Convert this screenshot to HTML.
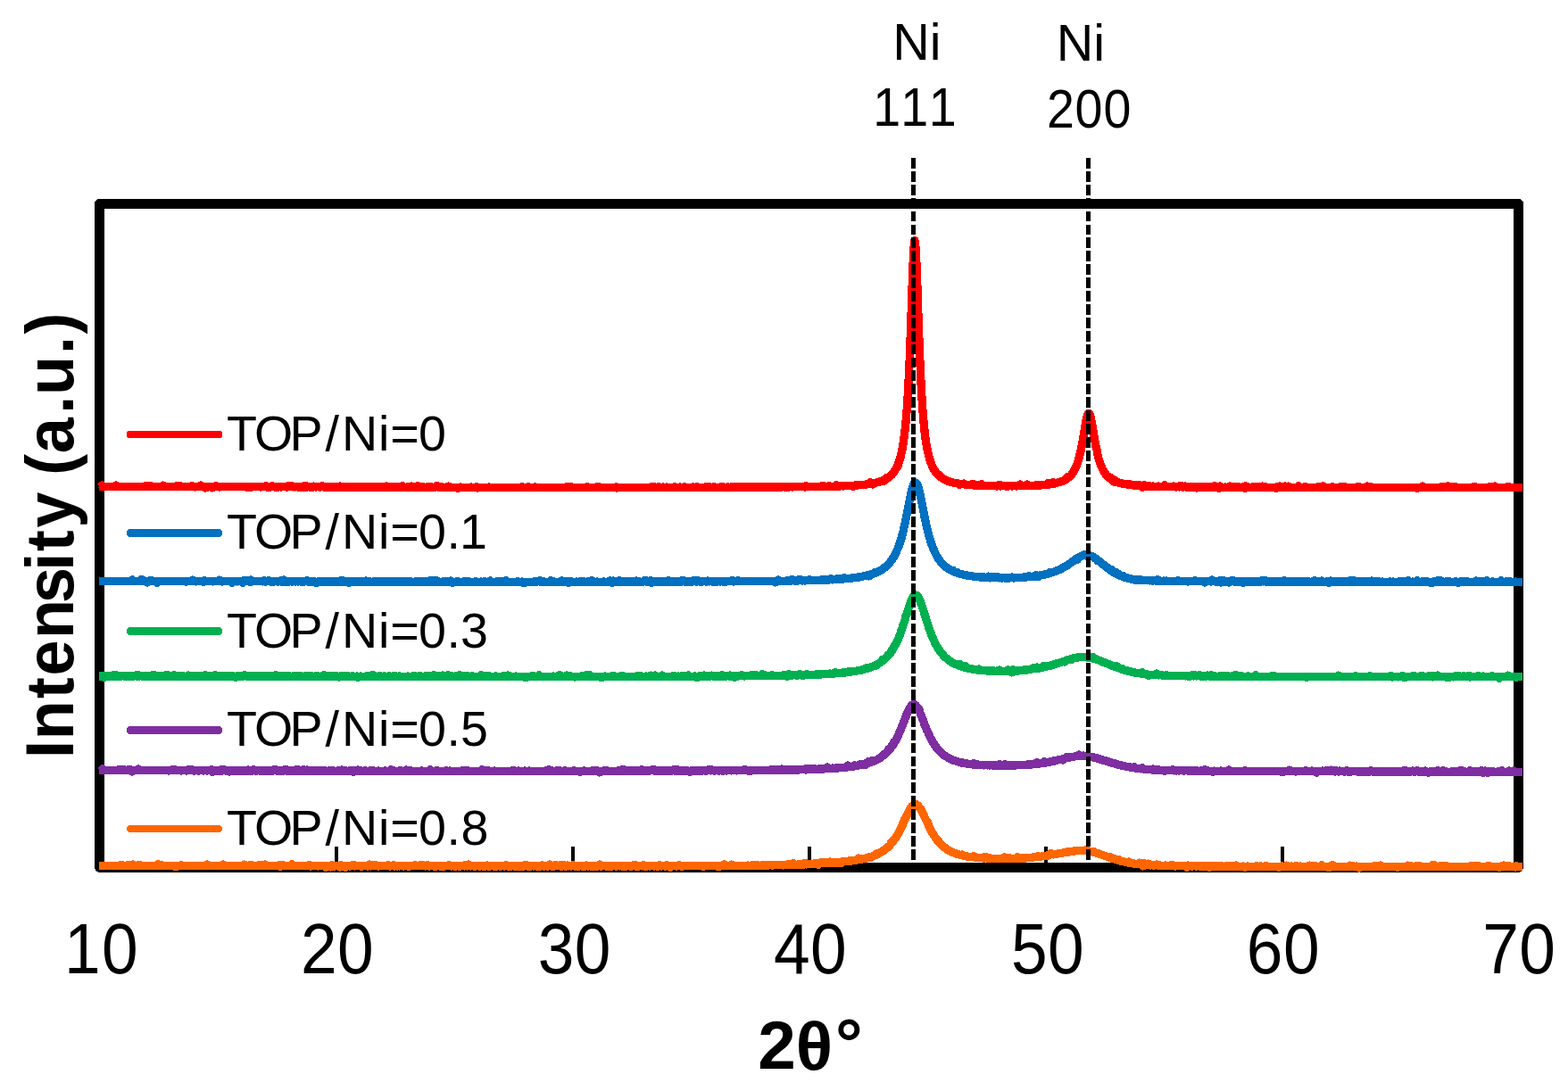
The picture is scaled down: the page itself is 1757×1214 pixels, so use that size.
<!DOCTYPE html>
<html lang="en">
<head>
<meta charset="utf-8">
<title>XRD patterns</title>
<style>
html,body{margin:0;padding:0;background:#fff;}
body{width:1757px;height:1214px;overflow:hidden;}
svg{display:block;}
text{font-kerning:none;}
.g{font-family:"Liberation Sans",sans-serif;fill:#000;}
.m{font-family:"Liberation Sans",sans-serif;fill:#000;}
.b{font-family:"Liberation Sans",sans-serif;font-weight:bold;fill:#000;}
</style>
</head>
<body>
<svg width="1757" height="1214" viewBox="0 0 1757 1214" shape-rendering="crispEdges">
<rect x="0" y="0" width="1757" height="1214" fill="#fff"/>
<!-- plot frame -->
<path d="M111.5 972.4 L111.5 228.5 L1701.5 228.5 L1701.5 972.4" fill="none" stroke="#000" stroke-width="10.8" stroke-linejoin="round" stroke-linecap="butt"/>
<path d="M111.5 972.4 L1701.5 972.4" fill="none" stroke="#000" stroke-width="10.7" stroke-linecap="round"/>
<!-- ticks -->
<g stroke="#000" stroke-width="4">
<line x1="377" y1="949" x2="377" y2="968"/>
<line x1="642" y1="949" x2="642" y2="968"/>
<line x1="907" y1="949" x2="907" y2="968"/>
<line x1="1172" y1="949" x2="1172" y2="968"/>
<line x1="1437" y1="949" x2="1437" y2="968"/>
</g>
<!-- data -->
<g fill="none" stroke-width="9.3" stroke-linejoin="round" stroke-linecap="butt">
<polyline stroke="#FF0000" points="111,545.4 112,545.4 113,545.4 114,543.9 115,545.4 116,545.4 117,545.3 118,545.4 119,545.5 120,545.3 121,545.3 122,545.4 123,545.5 124,545.5 125,545.3 126,545.3 127,545.5 128,545.6 129,545.4 130,544.0 131,545.6 132,545.4 133,545.5 134,545.6 135,545.5 136,545.4 137,545.5 138,545.4 139,545.4 140,545.4 141,545.4 142,545.4 143,545.4 144,545.4 145,545.5 146,545.5 147,545.5 148,545.6 149,545.3 150,545.6 151,545.4 152,545.3 153,545.5 154,545.5 155,545.6 156,545.4 157,545.5 158,545.5 159,545.3 160,545.3 161,545.6 162,545.6 163,544.5 164,545.6 165,545.6 166,545.5 167,545.7 168,544.2 169,545.5 170,545.6 171,545.3 172,545.7 173,545.4 174,545.5 175,545.8 176,545.4 177,545.5 178,545.7 179,545.4 180,545.5 181,545.6 182,545.6 183,544.1 184,545.6 185,545.7 186,545.7 187,545.6 188,545.5 189,545.5 190,545.3 191,545.6 192,545.3 193,545.7 194,545.8 195,545.4 196,545.5 197,545.5 198,544.4 199,545.5 200,545.6 201,544.2 202,545.6 203,545.7 204,545.5 205,545.6 206,545.6 207,545.7 208,545.4 209,545.7 210,545.7 211,545.7 212,545.6 213,545.4 214,545.5 215,544.8 216,545.6 217,545.6 218,545.8 219,545.9 220,545.6 221,545.9 222,545.4 223,545.4 224,545.7 225,543.9 226,545.7 227,545.7 228,545.6 229,545.7 230,547.1 231,546.7 232,545.7 233,545.7 234,545.9 235,545.5 236,545.7 237,545.6 238,546.9 239,545.9 240,545.7 241,545.6 242,544.9 243,545.8 244,545.6 245,545.6 246,545.9 247,545.8 248,545.7 249,545.6 250,545.7 251,545.5 252,545.8 253,545.7 254,545.7 255,545.5 256,545.6 257,545.8 258,545.7 259,545.6 260,545.8 261,545.8 262,545.6 263,545.7 264,545.6 265,545.6 266,545.8 267,545.8 268,545.8 269,545.6 270,545.6 271,545.7 272,545.7 273,545.8 274,545.7 275,545.8 276,546.0 277,545.9 278,545.9 279,545.8 280,545.9 281,545.7 282,545.9 283,545.7 284,545.7 285,545.7 286,545.8 287,545.8 288,545.8 289,545.6 290,545.8 291,545.6 292,546.0 293,545.8 294,545.8 295,545.8 296,545.6 297,545.6 298,544.7 299,546.0 300,545.7 301,546.9 302,545.8 303,545.6 304,545.6 305,544.8 306,545.8 307,545.8 308,546.0 309,545.8 310,545.9 311,546.0 312,546.0 313,545.6 314,545.8 315,546.0 316,545.7 317,545.7 318,545.7 319,545.7 320,545.7 321,545.9 322,546.0 323,544.7 324,545.8 325,545.6 326,545.8 327,544.9 328,545.9 329,545.8 330,545.6 331,545.9 332,545.6 333,545.8 334,545.9 335,545.9 336,546.1 337,545.6 338,545.9 339,546.0 340,545.8 341,546.0 342,544.4 343,546.0 344,546.0 345,545.8 346,545.8 347,545.9 348,545.8 349,546.0 350,545.9 351,546.1 352,545.2 353,545.9 354,545.9 355,545.8 356,545.8 357,545.8 358,546.0 359,545.8 360,545.9 361,544.6 362,545.9 363,545.9 364,546.1 365,546.1 366,545.8 367,545.9 368,545.9 369,545.9 370,546.1 371,546.0 372,546.1 373,546.2 374,545.9 375,545.9 376,546.0 377,546.1 378,546.0 379,546.0 380,546.1 381,545.0 382,546.0 383,545.9 384,545.8 385,546.1 386,546.0 387,545.9 388,545.9 389,545.9 390,545.8 391,546.0 392,545.9 393,546.0 394,546.1 395,546.0 396,546.1 397,546.1 398,546.0 399,546.0 400,546.2 401,546.0 402,546.2 403,545.9 404,546.1 405,546.0 406,545.9 407,545.7 408,546.2 409,545.9 410,545.9 411,546.0 412,546.0 413,546.1 414,546.0 415,545.9 416,546.1 417,545.9 418,546.1 419,546.1 420,546.2 421,546.0 422,546.0 423,546.0 424,545.8 425,546.0 426,545.9 427,545.9 428,546.1 429,546.0 430,546.3 431,546.3 432,545.9 433,544.9 434,546.0 435,546.1 436,546.1 437,546.2 438,546.1 439,546.2 440,546.1 441,545.8 442,546.0 443,546.0 444,546.0 445,546.0 446,546.3 447,546.1 448,546.3 449,546.1 450,546.3 451,544.7 452,546.2 453,546.0 454,546.2 455,546.3 456,545.9 457,546.0 458,546.2 459,546.1 460,546.0 461,545.0 462,546.1 463,546.3 464,546.2 465,546.0 466,546.1 467,546.3 468,544.5 469,546.1 470,546.2 471,546.3 472,546.3 473,546.0 474,546.4 475,546.1 476,546.2 477,546.2 478,546.1 479,546.1 480,546.1 481,546.3 482,546.0 483,545.9 484,546.2 485,546.2 486,546.3 487,546.4 488,546.1 489,544.7 490,544.7 491,545.4 492,546.3 493,546.1 494,546.0 495,546.2 496,546.0 497,546.3 498,546.2 499,546.2 500,546.1 501,546.4 502,546.3 503,545.1 504,546.3 505,546.2 506,546.3 507,546.4 508,546.2 509,546.3 510,546.3 511,546.4 512,546.3 513,547.1 514,546.2 515,546.3 516,546.1 517,546.3 518,546.3 519,546.3 520,546.2 521,546.2 522,546.2 523,546.3 524,546.2 525,546.2 526,546.2 527,546.2 528,546.1 529,546.3 530,546.2 531,546.3 532,546.2 533,546.2 534,545.6 535,546.9 536,546.3 537,546.3 538,546.3 539,546.2 540,546.2 541,546.7 542,546.2 543,546.2 544,546.2 545,546.2 546,546.2 547,546.3 548,545.9 549,546.3 550,546.2 551,546.2 552,546.3 553,546.2 554,546.2 555,546.3 556,546.3 557,546.3 558,546.2 559,546.3 560,546.3 561,546.3 562,546.3 563,546.2 564,546.3 565,546.2 566,546.3 567,546.3 568,546.3 569,546.3 570,546.2 571,546.2 572,546.2 573,546.3 574,546.3 575,546.2 576,546.2 577,546.2 578,546.4 579,546.3 580,546.3 581,546.3 582,546.3 583,546.3 584,546.2 585,545.6 586,546.3 587,546.3 588,546.2 589,546.2 590,546.3 591,546.3 592,545.8 593,546.3 594,546.2 595,546.3 596,546.3 597,546.3 598,546.3 599,545.9 600,546.2 601,546.3 602,546.3 603,546.3 604,546.3 605,546.3 606,546.3 607,546.3 608,546.2 609,546.3 610,546.3 611,546.3 612,546.2 613,546.3 614,546.2 615,546.3 616,546.3 617,546.3 618,546.3 619,546.2 620,546.3 621,546.3 622,546.3 623,546.2 624,546.3 625,546.2 626,546.3 627,546.3 628,546.7 629,546.3 630,546.2 631,546.2 632,546.2 633,546.3 634,546.3 635,545.8 636,546.3 637,545.7 638,546.2 639,546.3 640,545.7 641,546.3 642,546.2 643,546.3 644,546.3 645,546.3 646,546.2 647,546.2 648,546.2 649,546.3 650,546.3 651,546.2 652,546.3 653,546.4 654,546.3 655,546.4 656,546.3 657,546.4 658,545.8 659,546.2 660,546.3 661,546.4 662,546.2 663,546.3 664,546.2 665,546.2 666,546.3 667,546.3 668,546.3 669,545.7 670,546.2 671,546.2 672,545.9 673,546.4 674,546.3 675,546.3 676,546.3 677,546.4 678,546.2 679,546.3 680,546.3 681,546.3 682,546.4 683,546.2 684,546.2 685,546.3 686,546.7 687,546.2 688,546.2 689,546.3 690,545.9 691,546.9 692,546.3 693,546.3 694,546.3 695,546.3 696,546.3 697,546.2 698,546.3 699,546.3 700,546.2 701,546.3 702,546.2 703,546.2 704,546.4 705,546.3 706,546.4 707,546.3 708,546.3 709,546.3 710,546.3 711,546.3 712,546.3 713,546.2 714,546.3 715,546.3 716,546.3 717,546.3 718,546.3 719,546.3 720,546.3 721,546.3 722,546.2 723,546.3 724,546.3 725,546.2 726,546.3 727,546.3 728,546.3 729,546.2 730,545.7 731,546.3 732,545.9 733,546.3 734,545.9 735,546.3 736,546.2 737,546.3 738,545.8 739,546.3 740,546.3 741,546.2 742,546.3 743,545.9 744,546.4 745,546.3 746,546.2 747,546.1 748,546.3 749,546.2 750,546.3 751,546.2 752,546.2 753,546.2 754,546.3 755,546.2 756,545.9 757,546.2 758,546.3 759,546.2 760,546.3 761,546.2 762,546.1 763,546.3 764,546.2 765,546.2 766,546.2 767,545.7 768,546.2 769,546.2 770,546.2 771,546.3 772,546.2 773,546.3 774,546.3 775,546.3 776,545.9 777,546.1 778,546.2 779,546.2 780,546.3 781,545.6 782,546.2 783,546.2 784,546.2 785,546.2 786,546.2 787,546.3 788,546.2 789,546.2 790,546.2 791,545.6 792,546.2 793,546.2 794,546.2 795,545.8 796,546.2 797,546.2 798,546.2 799,546.1 800,546.2 801,546.1 802,546.2 803,546.2 804,546.2 805,546.2 806,546.2 807,546.2 808,545.6 809,546.3 810,546.2 811,546.1 812,546.7 813,546.2 814,546.3 815,546.1 816,546.1 817,546.2 818,546.2 819,546.1 820,546.2 821,546.1 822,546.1 823,546.2 824,545.4 825,546.1 826,545.8 827,546.1 828,546.1 829,546.1 830,546.2 831,546.0 832,545.6 833,546.0 834,546.0 835,546.2 836,546.1 837,546.1 838,546.1 839,546.1 840,546.0 841,546.1 842,546.1 843,546.0 844,546.1 845,546.1 846,546.1 847,546.1 848,546.0 849,546.0 850,546.0 851,546.1 852,546.0 853,546.1 854,546.0 855,546.1 856,546.0 857,546.5 858,545.4 859,546.0 860,546.7 861,545.9 862,546.1 863,546.0 864,546.0 865,546.0 866,546.0 867,546.0 868,546.1 869,545.9 870,546.0 871,545.9 872,546.0 873,546.0 874,545.9 875,545.9 876,545.9 877,545.8 878,545.8 879,545.9 880,545.8 881,545.9 882,545.8 883,545.9 884,546.0 885,545.8 886,545.8 887,545.3 888,546.0 889,545.8 890,545.7 891,545.2 892,545.8 893,545.8 894,545.7 895,545.8 896,545.8 897,545.7 898,545.7 899,545.8 900,545.8 901,545.6 902,545.9 903,544.7 904,545.7 905,545.8 906,545.7 907,545.7 908,545.7 909,545.6 910,545.4 911,545.6 912,545.5 913,545.4 914,545.6 915,545.3 916,545.6 917,545.4 918,545.3 919,545.4 920,545.8 921,545.6 922,544.3 923,545.5 924,545.6 925,545.3 926,545.3 927,545.4 928,545.4 929,544.4 930,545.5 931,545.3 932,545.3 933,545.5 934,545.2 935,545.5 936,545.1 937,543.6 938,545.1 939,545.1 940,545.1 941,545.0 942,544.7 943,544.8 944,544.8 945,544.9 946,544.9 947,544.4 948,544.7 949,544.6 950,544.6 951,544.6 952,544.4 953,544.3 954,544.5 955,544.4 956,545.3 957,544.2 958,544.1 959,543.9 960,544.1 961,543.9 962,543.7 963,543.7 964,543.2 965,543.7 966,543.5 967,543.4 968,543.4 969,543.3 970,542.9 971,542.9 972,542.8 973,542.7 974,542.6 975,540.5 976,542.4 977,542.1 978,543.1 979,541.8 980,541.5 981,541.3 982,541.1 983,540.8 984,540.5 985,540.0 986,539.9 987,539.6 988,539.2 989,538.9 990,538.4 991,539.1 992,537.6 993,535.7 994,536.2 995,535.6 996,534.8 997,534.2 998,533.2 999,532.6 1000,531.2 1001,530.0 1002,528.6 1003,526.9 1004,525.3 1005,523.4 1006,522.6 1007,518.4 1008,515.7 1009,512.4 1010,508.1 1011,503.4 1012,497.8 1013,490.9 1014,482.8 1015,473.2 1016,461.2 1017,446.6 1018,428.9 1019,408.3 1020,383.1 1021,354.6 1022,325.0 1023,297.4 1024,277.2 1025,269.5 1026,277.4 1027,297.4 1028,323.3 1029,354.9 1030,383.0 1031,407.9 1032,429.2 1033,446.5 1034,461.3 1035,473.1 1036,482.9 1037,491.1 1038,497.9 1039,503.5 1040,508.2 1041,512.1 1042,515.7 1043,518.5 1044,521.1 1045,523.5 1046,525.4 1047,527.2 1048,528.4 1049,530.0 1050,531.3 1051,532.3 1052,533.4 1053,532.7 1054,534.9 1055,535.5 1056,536.2 1057,536.7 1058,537.4 1059,538.0 1060,538.3 1061,538.8 1062,539.0 1063,539.7 1064,539.7 1065,540.1 1066,540.5 1067,540.6 1068,541.0 1069,541.2 1070,541.6 1071,541.6 1072,541.8 1073,541.8 1074,542.1 1075,543.2 1076,542.4 1077,542.4 1078,542.6 1079,542.8 1080,542.1 1081,542.8 1082,543.3 1083,543.2 1084,543.3 1085,543.3 1086,543.5 1087,543.8 1088,543.5 1089,543.6 1090,542.2 1091,543.8 1092,544.1 1093,543.9 1094,543.9 1095,543.8 1096,544.1 1097,544.2 1098,544.1 1099,544.2 1100,542.8 1101,544.4 1102,544.3 1103,544.3 1104,544.2 1105,544.6 1106,544.3 1107,544.6 1108,544.5 1109,544.5 1110,544.7 1111,544.5 1112,544.8 1113,544.5 1114,544.7 1115,544.8 1116,544.6 1117,545.0 1118,544.8 1119,544.5 1120,543.2 1121,545.0 1122,544.7 1123,544.7 1124,544.8 1125,544.6 1126,544.8 1127,544.9 1128,544.7 1129,544.9 1130,545.1 1131,544.6 1132,544.6 1133,544.7 1134,544.9 1135,544.8 1136,544.7 1137,544.6 1138,544.7 1139,545.0 1140,544.6 1141,544.7 1142,544.8 1143,543.1 1144,543.7 1145,544.8 1146,544.7 1147,544.5 1148,544.6 1149,544.7 1150,544.5 1151,542.9 1152,544.6 1153,544.6 1154,544.2 1155,544.3 1156,544.3 1157,544.3 1158,544.4 1159,544.4 1160,544.1 1161,544.0 1162,543.1 1163,544.8 1164,544.2 1165,543.9 1166,543.8 1167,543.9 1168,543.6 1169,543.6 1170,543.5 1171,543.5 1172,543.5 1173,543.3 1174,543.2 1175,541.3 1176,542.9 1177,542.7 1178,542.7 1179,542.3 1180,540.6 1181,542.1 1182,541.9 1183,541.5 1184,541.4 1185,541.0 1186,540.7 1187,540.7 1188,540.3 1189,539.7 1190,539.4 1191,539.2 1192,538.6 1193,538.0 1194,537.7 1195,536.9 1196,534.8 1197,535.6 1198,534.6 1199,533.7 1200,532.7 1201,531.5 1202,530.0 1203,528.7 1204,526.8 1205,525.0 1206,522.6 1207,519.9 1208,516.9 1209,513.5 1210,509.8 1211,505.4 1212,500.6 1213,495.1 1214,489.1 1215,483.2 1216,477.0 1217,471.5 1218,467.0 1219,464.0 1220,464.1 1221,463.8 1222,467.0 1223,471.6 1224,477.1 1225,483.2 1226,489.0 1227,495.1 1228,500.4 1229,503.9 1230,509.8 1231,513.7 1232,517.2 1233,520.1 1234,522.7 1235,524.9 1236,527.0 1237,528.7 1238,530.0 1239,531.5 1240,532.8 1241,533.7 1242,534.8 1243,535.8 1244,534.9 1245,537.1 1246,537.7 1247,538.2 1248,540.0 1249,538.0 1250,539.7 1251,540.0 1252,540.6 1253,540.7 1254,541.2 1255,541.2 1256,541.6 1257,541.9 1258,542.1 1259,542.2 1260,542.5 1261,542.7 1262,542.8 1263,542.9 1264,543.2 1265,543.1 1266,542.4 1267,543.4 1268,543.7 1269,543.4 1270,544.0 1271,543.9 1272,544.1 1273,544.0 1274,544.2 1275,544.5 1276,543.2 1277,544.5 1278,544.4 1279,544.5 1280,546.3 1281,544.6 1282,543.4 1283,544.7 1284,544.9 1285,544.7 1286,544.9 1287,545.0 1288,545.0 1289,545.0 1290,545.2 1291,545.2 1292,545.0 1293,545.4 1294,545.3 1295,545.3 1296,545.2 1297,545.3 1298,545.0 1299,545.3 1300,545.4 1301,545.5 1302,545.3 1303,545.2 1304,545.3 1305,543.7 1306,545.7 1307,545.3 1308,545.6 1309,545.6 1310,545.7 1311,545.6 1312,545.3 1313,545.7 1314,545.7 1315,545.1 1316,545.6 1317,545.6 1318,545.9 1319,545.7 1320,545.8 1321,545.7 1322,545.9 1323,544.4 1324,545.7 1325,545.9 1326,545.8 1327,545.9 1328,545.1 1329,546.0 1330,545.8 1331,545.9 1332,545.9 1333,545.7 1334,546.1 1335,545.8 1336,546.1 1337,546.1 1338,546.1 1339,546.0 1340,545.9 1341,546.9 1342,546.1 1343,546.0 1344,546.2 1345,546.0 1346,546.1 1347,546.0 1348,546.1 1349,546.0 1350,546.0 1351,545.8 1352,546.0 1353,545.3 1354,546.2 1355,546.1 1356,545.9 1357,546.3 1358,546.1 1359,546.2 1360,546.0 1361,544.7 1362,546.0 1363,546.0 1364,546.2 1365,545.9 1366,547.5 1367,545.0 1368,546.2 1369,546.0 1370,546.3 1371,546.3 1372,546.3 1373,546.1 1374,546.2 1375,546.3 1376,546.1 1377,546.3 1378,544.9 1379,546.4 1380,546.5 1381,546.4 1382,546.1 1383,546.4 1384,546.2 1385,546.2 1386,545.3 1387,546.1 1388,546.3 1389,546.1 1390,546.4 1391,546.3 1392,545.9 1393,546.1 1394,546.1 1395,547.2 1396,544.9 1397,546.3 1398,546.2 1399,546.1 1400,546.3 1401,546.4 1402,546.3 1403,546.4 1404,546.3 1405,545.3 1406,546.2 1407,546.3 1408,546.4 1409,546.3 1410,545.3 1411,546.4 1412,546.2 1413,546.2 1414,546.3 1415,545.1 1416,546.4 1417,546.4 1418,545.4 1419,546.2 1420,546.4 1421,546.2 1422,546.4 1423,546.4 1424,546.2 1425,546.3 1426,546.6 1427,546.2 1428,546.3 1429,546.2 1430,547.4 1431,546.5 1432,545.2 1433,546.3 1434,545.2 1435,546.0 1436,546.4 1437,546.3 1438,546.3 1439,546.5 1440,545.0 1441,546.4 1442,546.4 1443,546.5 1444,545.1 1445,546.3 1446,546.1 1447,546.4 1448,546.4 1449,546.3 1450,546.6 1451,546.5 1452,546.6 1453,546.4 1454,546.6 1455,544.7 1456,546.4 1457,546.4 1458,546.3 1459,546.6 1460,546.5 1461,546.3 1462,545.6 1463,545.5 1464,546.4 1465,546.5 1466,546.3 1467,546.4 1468,546.4 1469,546.3 1470,546.3 1471,546.5 1472,546.4 1473,546.7 1474,546.7 1475,546.3 1476,546.4 1477,546.2 1478,545.2 1479,546.3 1480,546.3 1481,546.2 1482,545.1 1483,545.0 1484,546.3 1485,546.4 1486,546.5 1487,546.6 1488,546.3 1489,546.6 1490,546.2 1491,546.3 1492,546.4 1493,545.6 1494,546.5 1495,546.5 1496,546.6 1497,546.5 1498,546.4 1499,546.6 1500,546.4 1501,546.3 1502,546.2 1503,545.3 1504,546.7 1505,546.5 1506,546.4 1507,545.7 1508,546.3 1509,546.5 1510,546.4 1511,546.6 1512,546.3 1513,546.5 1514,546.5 1515,546.4 1516,546.5 1517,546.4 1518,546.6 1519,546.4 1520,546.2 1521,546.6 1522,545.2 1523,546.5 1524,546.6 1525,546.5 1526,546.4 1527,546.2 1528,546.3 1529,546.4 1530,546.5 1531,546.3 1532,545.0 1533,546.6 1534,546.4 1535,546.4 1536,545.5 1537,546.7 1538,546.6 1539,546.6 1540,546.7 1541,546.6 1542,546.6 1543,546.5 1544,546.6 1545,546.5 1546,546.6 1547,546.3 1548,546.4 1549,546.4 1550,546.4 1551,546.5 1552,546.7 1553,546.6 1554,546.5 1555,546.5 1556,546.6 1557,546.3 1558,546.5 1559,546.7 1560,546.7 1561,546.6 1562,546.5 1563,546.3 1564,546.4 1565,546.5 1566,546.5 1567,546.5 1568,546.2 1569,546.4 1570,546.5 1571,546.4 1572,546.5 1573,546.5 1574,546.5 1575,546.5 1576,546.6 1577,546.6 1578,546.5 1579,546.4 1580,546.4 1581,546.4 1582,546.5 1583,546.3 1584,546.4 1585,546.5 1586,546.7 1587,546.6 1588,547.6 1589,546.6 1590,546.5 1591,546.5 1592,546.6 1593,546.5 1594,545.0 1595,546.6 1596,546.4 1597,546.5 1598,546.2 1599,546.5 1600,546.7 1601,546.5 1602,546.5 1603,546.5 1604,546.4 1605,546.6 1606,546.5 1607,546.6 1608,546.4 1609,546.5 1610,546.5 1611,546.4 1612,546.6 1613,546.4 1614,546.4 1615,545.8 1616,546.5 1617,545.5 1618,546.6 1619,546.4 1620,546.6 1621,546.4 1622,544.9 1623,546.4 1624,545.6 1625,546.6 1626,546.7 1627,546.7 1628,545.6 1629,546.6 1630,546.5 1631,545.4 1632,546.7 1633,546.7 1634,546.5 1635,546.6 1636,546.6 1637,546.6 1638,546.6 1639,546.4 1640,546.6 1641,546.4 1642,546.4 1643,546.5 1644,546.6 1645,546.6 1646,546.6 1647,546.6 1648,546.4 1649,546.6 1650,546.6 1651,546.6 1652,545.2 1653,546.7 1654,546.6 1655,546.6 1656,546.5 1657,546.5 1658,546.6 1659,546.4 1660,546.5 1661,546.5 1662,546.6 1663,546.5 1664,546.7 1665,546.3 1666,546.7 1667,546.6 1668,546.6 1669,546.5 1670,545.2 1671,546.5 1672,546.6 1673,546.4 1674,546.6 1675,544.9 1676,546.3 1677,546.5 1678,546.5 1679,546.6 1680,546.5 1681,546.6 1682,546.7 1683,546.4 1684,546.8 1685,546.6 1686,546.5 1687,546.4 1688,546.3 1689,546.7 1690,545.2 1691,546.5 1692,546.7 1693,546.6 1694,546.6 1695,546.4 1696,546.3 1697,546.7 1698,546.5 1699,546.5 1700,546.8 1701,546.5 1702,546.5 1703,546.5 1704,546.5 1705,546.5 1706,546.6"/>
<polyline stroke="#0070C0" points="111,651.4 112,651.4 113,651.4 114,651.4 115,651.5 116,651.4 117,651.4 118,651.3 119,651.3 120,651.4 121,651.2 122,651.5 123,651.4 124,651.4 125,651.4 126,651.3 127,651.3 128,651.5 129,651.5 130,651.4 131,651.4 132,651.4 133,651.3 134,651.4 135,651.3 136,651.3 137,651.5 138,651.4 139,651.3 140,651.3 141,651.4 142,651.3 143,651.4 144,651.6 145,651.5 146,651.6 147,650.6 148,650.0 149,651.5 150,651.5 151,651.6 152,651.4 153,651.4 154,651.4 155,651.5 156,651.4 157,651.7 158,649.7 159,650.2 160,650.0 161,651.5 162,651.6 163,651.4 164,651.2 165,653.1 166,651.6 167,651.5 168,650.6 169,651.4 170,650.6 171,651.4 172,651.3 173,651.4 174,651.5 175,651.5 176,653.2 177,651.6 178,651.7 179,651.4 180,651.6 181,651.5 182,651.5 183,651.3 184,651.6 185,651.3 186,651.5 187,651.8 188,651.5 189,651.6 190,651.4 191,651.4 192,651.6 193,651.6 194,651.5 195,651.4 196,651.5 197,651.5 198,651.5 199,651.7 200,651.5 201,651.5 202,651.5 203,651.4 204,651.6 205,651.5 206,651.6 207,651.6 208,651.9 209,651.7 210,651.9 211,651.3 212,651.6 213,651.7 214,651.5 215,651.6 216,650.1 217,651.8 218,651.6 219,651.6 220,651.9 221,651.6 222,651.5 223,651.7 224,651.5 225,651.5 226,651.7 227,651.7 228,652.4 229,650.7 230,651.4 231,651.6 232,651.8 233,651.7 234,651.5 235,651.6 236,651.5 237,651.4 238,651.7 239,651.9 240,651.5 241,651.5 242,651.6 243,651.7 244,651.7 245,651.6 246,650.1 247,651.6 248,651.7 249,652.0 250,651.7 251,651.7 252,651.8 253,651.7 254,651.7 255,651.6 256,651.6 257,651.5 258,651.8 259,651.5 260,653.3 261,652.0 262,651.8 263,651.6 264,651.8 265,651.9 266,651.6 267,651.9 268,651.5 269,651.6 270,651.9 271,651.6 272,653.4 273,651.7 274,650.3 275,650.3 276,651.6 277,651.8 278,651.7 279,651.9 280,652.6 281,650.0 282,651.8 283,651.8 284,651.7 285,651.8 286,651.8 287,651.6 288,651.6 289,651.7 290,651.8 291,651.7 292,651.8 293,651.5 294,651.9 295,651.8 296,651.0 297,652.0 298,651.9 299,651.7 300,651.7 301,650.5 302,651.8 303,651.9 304,652.5 305,652.0 306,652.2 307,651.8 308,651.8 309,651.8 310,651.7 311,652.1 312,652.0 313,651.7 314,651.7 315,652.0 316,650.3 317,652.0 318,650.1 319,652.0 320,651.7 321,651.9 322,651.8 323,651.9 324,652.0 325,651.8 326,651.8 327,651.8 328,652.1 329,651.7 330,651.8 331,652.0 332,651.7 333,651.7 334,651.9 335,651.7 336,651.6 337,651.9 338,651.8 339,652.0 340,651.8 341,652.0 342,651.8 343,651.8 344,650.6 345,652.1 346,651.8 347,651.9 348,651.9 349,652.0 350,651.9 351,651.9 352,652.1 353,652.0 354,653.3 355,653.5 356,651.9 357,652.1 358,652.1 359,651.8 360,652.1 361,652.0 362,652.1 363,652.0 364,651.8 365,651.8 366,652.1 367,651.9 368,652.0 369,652.1 370,651.9 371,652.1 372,652.1 373,652.2 374,652.0 375,652.0 376,652.0 377,651.8 378,652.0 379,651.9 380,652.0 381,652.1 382,652.0 383,650.3 384,652.1 385,652.0 386,651.9 387,652.0 388,652.2 389,652.0 390,652.0 391,653.4 392,652.1 393,652.0 394,651.9 395,652.0 396,651.9 397,652.2 398,652.1 399,652.0 400,651.8 401,652.0 402,652.2 403,652.1 404,652.0 405,651.7 406,652.0 407,652.0 408,652.2 409,652.0 410,650.9 411,652.2 412,652.0 413,651.9 414,652.0 415,652.1 416,652.3 417,652.2 418,652.0 419,652.3 420,652.0 421,652.1 422,652.1 423,652.2 424,652.0 425,652.1 426,652.2 427,652.1 428,652.1 429,652.1 430,651.9 431,652.1 432,652.0 433,652.0 434,652.0 435,652.1 436,652.2 437,652.0 438,652.2 439,652.1 440,652.1 441,652.1 442,652.1 443,652.2 444,652.0 445,652.2 446,652.1 447,652.1 448,652.1 449,651.3 450,652.0 451,652.4 452,652.3 453,652.1 454,652.1 455,652.1 456,652.3 457,652.0 458,652.3 459,652.1 460,652.1 461,652.0 462,652.2 463,652.3 464,652.2 465,652.1 466,651.9 467,652.1 468,652.2 469,652.0 470,652.2 471,652.1 472,652.0 473,652.0 474,651.6 475,652.1 476,652.0 477,652.1 478,651.9 479,652.0 480,652.0 481,652.2 482,650.8 483,652.1 484,652.4 485,652.1 486,650.7 487,652.3 488,652.3 489,650.8 490,651.9 491,652.2 492,652.1 493,652.2 494,652.3 495,652.3 496,652.2 497,652.3 498,651.2 499,652.1 500,652.3 501,652.2 502,652.1 503,652.4 504,652.2 505,651.0 506,652.1 507,653.2 508,652.5 509,652.3 510,652.3 511,652.1 512,652.4 513,652.1 514,652.1 515,652.3 516,652.5 517,652.4 518,652.2 519,652.0 520,652.3 521,652.0 522,652.0 523,652.2 524,651.1 525,652.0 526,652.1 527,652.3 528,652.2 529,652.3 530,652.3 531,652.4 532,652.5 533,651.5 534,652.3 535,652.2 536,652.6 537,652.2 538,652.2 539,652.1 540,652.5 541,652.3 542,652.1 543,652.0 544,652.1 545,652.2 546,652.2 547,652.1 548,652.2 549,650.9 550,652.4 551,652.3 552,652.3 553,652.5 554,652.2 555,652.3 556,652.1 557,652.1 558,652.2 559,652.1 560,652.0 561,652.1 562,652.2 563,652.1 564,652.4 565,652.2 566,652.3 567,650.6 568,652.2 569,652.2 570,652.2 571,652.2 572,652.3 573,652.2 574,652.5 575,652.4 576,652.2 577,652.4 578,652.3 579,652.2 580,651.7 581,652.1 582,652.2 583,652.2 584,652.3 585,652.1 586,652.2 587,653.7 588,652.2 589,652.3 590,652.3 591,652.2 592,652.4 593,652.2 594,652.3 595,652.3 596,652.2 597,652.4 598,652.1 599,652.2 600,652.1 601,652.5 602,651.2 603,651.2 604,651.0 605,650.6 606,652.2 607,652.0 608,652.1 609,652.2 610,652.1 611,652.2 612,652.2 613,652.2 614,652.3 615,652.3 616,652.1 617,650.8 618,652.3 619,652.3 620,652.3 621,652.1 622,652.3 623,652.3 624,652.2 625,652.2 626,652.3 627,651.9 628,652.2 629,650.9 630,652.3 631,652.3 632,652.2 633,652.1 634,652.1 635,652.3 636,652.0 637,653.0 638,652.1 639,652.3 640,652.1 641,652.1 642,652.2 643,652.2 644,652.2 645,652.3 646,652.1 647,652.2 648,652.3 649,652.1 650,652.2 651,652.1 652,652.1 653,652.1 654,652.3 655,652.0 656,652.2 657,652.4 658,652.0 659,652.2 660,652.4 661,652.2 662,650.9 663,650.7 664,652.2 665,652.1 666,652.1 667,652.3 668,652.2 669,652.0 670,652.2 671,652.2 672,652.3 673,652.3 674,652.2 675,652.3 676,652.0 677,652.0 678,652.2 679,652.3 680,652.2 681,652.1 682,652.2 683,650.9 684,652.1 685,652.2 686,653.5 687,650.9 688,652.4 689,651.3 690,652.0 691,652.3 692,652.1 693,652.3 694,650.5 695,652.2 696,652.1 697,652.1 698,652.1 699,651.9 700,651.9 701,652.2 702,652.4 703,651.9 704,652.0 705,652.2 706,652.1 707,652.2 708,651.9 709,652.2 710,652.0 711,652.2 712,651.4 713,651.0 714,652.1 715,652.0 716,652.3 717,652.1 718,652.2 719,652.4 720,652.1 721,651.9 722,651.8 723,650.2 724,652.1 725,651.9 726,652.0 727,652.0 728,652.1 729,650.8 730,653.4 731,652.0 732,652.0 733,651.8 734,652.0 735,652.2 736,652.0 737,652.0 738,651.9 739,652.1 740,651.9 741,652.1 742,652.2 743,651.9 744,652.2 745,652.0 746,651.9 747,652.2 748,651.8 749,650.8 750,652.0 751,652.0 752,652.0 753,651.8 754,652.0 755,651.9 756,652.1 757,652.1 758,651.9 759,652.1 760,651.8 761,651.9 762,652.0 763,652.1 764,651.9 765,650.3 766,651.7 767,652.0 768,652.0 769,651.9 770,651.9 771,651.9 772,652.0 773,652.0 774,651.9 775,651.9 776,652.0 777,651.8 778,650.2 779,651.8 780,651.8 781,652.1 782,650.7 783,651.8 784,652.0 785,652.0 786,652.0 787,651.8 788,651.9 789,651.6 790,651.8 791,651.9 792,652.0 793,651.1 794,651.8 795,651.9 796,651.5 797,651.7 798,651.9 799,651.8 800,651.6 801,651.8 802,652.9 803,651.6 804,651.7 805,651.9 806,651.6 807,652.0 808,651.8 809,651.7 810,651.9 811,651.9 812,651.9 813,651.7 814,652.0 815,651.7 816,651.8 817,651.7 818,651.8 819,651.7 820,651.8 821,650.4 822,651.9 823,651.6 824,651.6 825,651.8 826,651.6 827,650.7 828,651.6 829,651.6 830,651.6 831,651.6 832,651.5 833,651.5 834,651.5 835,651.7 836,651.8 837,651.7 838,651.7 839,651.6 840,651.7 841,651.6 842,651.5 843,651.7 844,651.6 845,651.7 846,651.5 847,651.6 848,651.5 849,651.3 850,651.2 851,651.5 852,651.4 853,651.4 854,651.5 855,651.5 856,651.4 857,651.6 858,651.5 859,651.5 860,651.2 861,651.5 862,651.2 863,651.3 864,651.4 865,651.6 866,651.4 867,651.3 868,651.5 869,652.9 870,651.5 871,651.3 872,649.9 873,651.2 874,651.2 875,651.3 876,651.2 877,651.3 878,651.2 879,651.2 880,651.2 881,651.1 882,651.1 883,651.3 884,651.2 885,651.2 886,650.2 887,650.9 888,650.1 889,649.9 890,651.0 891,650.8 892,650.9 893,650.9 894,650.9 895,650.8 896,649.3 897,650.8 898,650.8 899,651.0 900,650.8 901,650.8 902,651.0 903,650.8 904,650.7 905,650.5 906,650.6 907,649.9 908,650.8 909,650.6 910,650.6 911,650.6 912,650.5 913,650.5 914,650.4 915,650.5 916,650.5 917,650.4 918,650.3 919,650.5 920,650.0 921,650.0 922,650.2 923,650.0 924,650.2 925,649.2 926,649.6 927,649.9 928,649.8 929,650.1 930,649.7 931,648.5 932,649.9 933,649.7 934,649.7 935,649.4 936,649.6 937,649.5 938,649.3 939,648.2 940,649.3 941,649.0 942,649.0 943,649.0 944,648.9 945,649.0 946,647.9 947,648.7 948,648.7 949,648.4 950,648.3 951,648.4 952,648.2 953,648.4 954,648.2 955,647.9 956,647.8 957,647.4 958,647.3 959,647.5 960,647.3 961,647.1 962,647.3 963,646.9 964,646.7 965,646.4 966,646.2 967,646.1 968,645.8 969,645.5 970,645.6 971,645.2 972,644.8 973,644.6 974,645.9 975,644.2 976,643.8 977,643.5 978,643.3 979,642.6 980,641.6 981,642.2 982,641.8 983,641.2 984,640.7 985,640.3 986,639.7 987,639.2 988,638.6 989,637.8 990,637.3 991,636.4 992,635.8 993,634.9 994,633.7 995,632.8 996,631.9 997,630.6 998,629.4 999,628.4 1000,626.8 1001,625.0 1002,623.4 1003,621.5 1004,619.4 1005,617.1 1006,615.1 1007,612.4 1008,609.6 1009,606.4 1010,603.4 1011,599.7 1012,595.8 1013,591.2 1014,587.2 1015,582.2 1016,577.0 1017,572.4 1018,567.2 1019,562.0 1020,557.0 1021,552.5 1022,548.4 1023,545.1 1024,542.6 1025,540.6 1026,541.3 1027,541.5 1028,543.5 1029,546.4 1030,550.1 1031,554.3 1032,559.0 1033,564.0 1034,569.1 1035,574.1 1036,579.3 1037,584.1 1038,588.7 1039,593.0 1040,596.9 1041,600.8 1042,604.2 1043,607.6 1044,610.4 1045,612.9 1046,615.6 1047,618.0 1048,619.9 1049,622.1 1050,623.8 1051,625.5 1052,627.0 1053,628.3 1054,629.7 1055,631.0 1056,631.9 1057,632.8 1058,633.9 1059,634.9 1060,635.7 1061,636.3 1062,637.1 1063,637.9 1064,638.4 1065,639.0 1066,639.3 1067,640.0 1068,639.5 1069,641.1 1070,641.4 1071,641.7 1072,641.3 1073,642.4 1074,642.7 1075,643.1 1076,643.4 1077,643.5 1078,643.9 1079,643.9 1080,644.3 1081,644.6 1082,644.8 1083,644.9 1084,645.0 1085,645.5 1086,645.3 1087,645.7 1088,645.7 1089,645.7 1090,646.1 1091,646.3 1092,646.3 1093,646.5 1094,646.5 1095,646.6 1096,646.7 1097,646.8 1098,646.9 1099,646.9 1100,647.0 1101,647.1 1102,647.2 1103,647.1 1104,647.4 1105,647.5 1106,647.5 1107,647.3 1108,646.1 1109,647.6 1110,647.9 1111,647.5 1112,647.8 1113,647.8 1114,646.2 1115,647.7 1116,647.7 1117,647.8 1118,646.4 1119,647.9 1120,647.7 1121,647.8 1122,647.8 1123,648.1 1124,647.7 1125,647.7 1126,648.0 1127,647.7 1128,647.9 1129,647.7 1130,647.9 1131,648.0 1132,647.7 1133,647.5 1134,647.0 1135,647.8 1136,647.9 1137,647.8 1138,647.5 1139,647.6 1140,647.4 1141,647.5 1142,647.5 1143,647.5 1144,647.4 1145,647.3 1146,647.3 1147,647.1 1148,647.2 1149,647.0 1150,647.0 1151,646.6 1152,646.8 1153,645.8 1154,646.2 1155,646.5 1156,646.4 1157,646.3 1158,646.1 1159,645.9 1160,645.8 1161,644.5 1162,645.4 1163,646.7 1164,645.2 1165,645.0 1166,644.9 1167,644.6 1168,644.8 1169,644.3 1170,644.2 1171,643.9 1172,643.6 1173,643.3 1174,643.3 1175,642.9 1176,641.9 1177,642.4 1178,642.0 1179,641.6 1180,641.4 1181,641.0 1182,640.7 1183,640.0 1184,639.9 1185,639.3 1186,639.1 1187,638.6 1188,638.0 1189,637.7 1190,636.8 1191,636.5 1192,636.1 1193,635.3 1194,634.7 1195,634.2 1196,633.6 1197,633.0 1198,632.3 1199,631.5 1200,630.9 1201,630.2 1202,629.3 1203,628.8 1204,628.2 1205,627.5 1206,625.9 1207,627.6 1208,625.6 1209,624.7 1210,624.3 1211,623.9 1212,623.5 1213,623.1 1214,622.8 1215,621.5 1216,622.2 1217,622.1 1218,623.1 1219,622.5 1220,622.6 1221,622.8 1222,623.1 1223,623.5 1224,623.8 1225,624.4 1226,625.1 1227,625.7 1228,626.4 1229,627.3 1230,628.8 1231,628.9 1232,629.4 1233,630.2 1234,631.0 1235,632.1 1236,632.7 1237,633.4 1238,634.3 1239,635.2 1240,636.0 1241,636.7 1242,636.7 1243,638.4 1244,639.1 1245,638.3 1246,640.2 1247,640.8 1248,641.8 1249,642.3 1250,641.1 1251,643.4 1252,643.6 1253,644.5 1254,643.8 1255,645.3 1256,645.5 1257,645.9 1258,646.3 1259,645.6 1260,647.2 1261,647.4 1262,647.5 1263,647.9 1264,648.1 1265,648.5 1266,648.8 1267,648.7 1268,649.2 1269,649.2 1270,649.2 1271,649.5 1272,650.3 1273,649.7 1274,649.8 1275,650.0 1276,650.1 1277,649.3 1278,650.3 1279,650.3 1280,650.5 1281,650.4 1282,650.2 1283,650.3 1284,650.5 1285,650.7 1286,650.7 1287,650.5 1288,650.9 1289,650.8 1290,650.8 1291,650.9 1292,650.9 1293,650.8 1294,650.7 1295,650.9 1296,650.9 1297,649.7 1298,651.2 1299,650.9 1300,651.0 1301,651.2 1302,651.2 1303,651.2 1304,651.0 1305,651.4 1306,651.2 1307,651.1 1308,651.5 1309,651.5 1310,651.3 1311,651.4 1312,651.3 1313,651.4 1314,651.3 1315,651.4 1316,651.3 1317,651.3 1318,651.4 1319,651.4 1320,650.5 1321,651.4 1322,651.5 1323,651.6 1324,651.3 1325,651.6 1326,651.7 1327,651.8 1328,651.5 1329,651.5 1330,651.7 1331,651.9 1332,651.7 1333,651.5 1334,651.7 1335,651.5 1336,651.7 1337,651.7 1338,651.6 1339,650.5 1340,651.6 1341,651.8 1342,651.8 1343,651.7 1344,651.7 1345,651.7 1346,651.6 1347,651.8 1348,651.9 1349,651.9 1350,653.1 1351,651.6 1352,651.9 1353,651.6 1354,651.8 1355,651.8 1356,651.7 1357,652.0 1358,650.0 1359,651.8 1360,651.8 1361,651.7 1362,651.9 1363,651.8 1364,651.9 1365,651.7 1366,651.8 1367,650.5 1368,653.0 1369,651.9 1370,650.4 1371,651.9 1372,652.1 1373,651.8 1374,652.0 1375,651.7 1376,651.8 1377,653.0 1378,652.0 1379,651.6 1380,651.8 1381,650.3 1382,651.7 1383,652.1 1384,652.0 1385,652.0 1386,652.2 1387,652.2 1388,651.8 1389,652.1 1390,652.0 1391,652.1 1392,652.0 1393,653.0 1394,652.1 1395,651.8 1396,651.9 1397,652.0 1398,651.9 1399,652.0 1400,651.8 1401,652.0 1402,651.7 1403,651.9 1404,651.9 1405,652.0 1406,652.0 1407,652.1 1408,652.0 1409,652.0 1410,651.9 1411,652.0 1412,652.0 1413,652.0 1414,650.5 1415,651.9 1416,651.9 1417,650.4 1418,652.1 1419,652.1 1420,651.9 1421,652.0 1422,652.1 1423,651.9 1424,652.0 1425,652.1 1426,652.2 1427,652.1 1428,652.1 1429,652.2 1430,652.1 1431,652.1 1432,652.1 1433,651.9 1434,652.2 1435,651.9 1436,652.1 1437,652.1 1438,652.2 1439,650.5 1440,652.0 1441,652.2 1442,652.2 1443,651.9 1444,652.2 1445,652.0 1446,652.1 1447,652.0 1448,652.0 1449,652.0 1450,651.9 1451,652.0 1452,652.2 1453,651.9 1454,652.2 1455,652.2 1456,652.1 1457,652.1 1458,652.3 1459,652.0 1460,652.2 1461,652.1 1462,652.3 1463,651.8 1464,652.0 1465,652.0 1466,652.2 1467,652.0 1468,652.3 1469,652.3 1470,652.1 1471,651.9 1472,652.2 1473,650.5 1474,651.1 1475,652.3 1476,652.3 1477,652.4 1478,652.1 1479,652.1 1480,652.0 1481,650.9 1482,652.0 1483,652.3 1484,652.2 1485,652.2 1486,652.0 1487,652.1 1488,652.2 1489,653.5 1490,652.1 1491,651.0 1492,652.1 1493,652.0 1494,652.1 1495,652.0 1496,652.2 1497,652.0 1498,652.2 1499,651.6 1500,651.6 1501,652.1 1502,652.2 1503,651.5 1504,652.1 1505,652.1 1506,652.2 1507,652.0 1508,652.2 1509,652.0 1510,652.2 1511,652.0 1512,652.2 1513,650.7 1514,652.2 1515,652.1 1516,652.1 1517,650.5 1518,652.2 1519,652.0 1520,652.1 1521,652.1 1522,652.3 1523,652.1 1524,652.1 1525,652.2 1526,652.2 1527,652.2 1528,651.3 1529,652.3 1530,652.3 1531,652.1 1532,652.1 1533,652.2 1534,652.1 1535,652.2 1536,652.3 1537,651.0 1538,652.3 1539,652.3 1540,652.2 1541,651.5 1542,651.2 1543,652.3 1544,652.2 1545,651.9 1546,652.1 1547,652.2 1548,652.2 1549,652.1 1550,652.2 1551,652.2 1552,652.3 1553,652.2 1554,652.2 1555,652.2 1556,652.3 1557,652.1 1558,652.1 1559,652.3 1560,652.3 1561,652.1 1562,652.2 1563,652.2 1564,652.2 1565,652.2 1566,652.2 1567,652.1 1568,652.3 1569,652.1 1570,652.1 1571,652.2 1572,652.1 1573,652.2 1574,652.1 1575,652.3 1576,652.1 1577,652.1 1578,650.8 1579,652.1 1580,652.1 1581,652.3 1582,652.3 1583,652.1 1584,652.3 1585,652.2 1586,652.3 1587,652.1 1588,650.6 1589,652.2 1590,652.2 1591,652.2 1592,652.5 1593,652.1 1594,652.0 1595,652.2 1596,652.2 1597,651.4 1598,652.2 1599,652.0 1600,652.1 1601,652.2 1602,652.3 1603,652.2 1604,653.8 1605,652.4 1606,652.2 1607,651.9 1608,652.2 1609,652.2 1610,652.1 1611,650.7 1612,652.3 1613,651.9 1614,650.5 1615,652.1 1616,652.3 1617,652.3 1618,652.2 1619,652.2 1620,652.0 1621,652.2 1622,652.1 1623,652.0 1624,652.2 1625,652.1 1626,652.2 1627,652.2 1628,652.2 1629,652.2 1630,652.1 1631,652.3 1632,652.1 1633,652.3 1634,653.1 1635,652.1 1636,652.2 1637,652.1 1638,652.2 1639,652.1 1640,652.1 1641,652.1 1642,652.2 1643,652.1 1644,652.1 1645,652.0 1646,652.4 1647,652.3 1648,652.3 1649,652.3 1650,652.3 1651,652.2 1652,652.2 1653,652.3 1654,650.9 1655,652.2 1656,652.2 1657,651.9 1658,652.2 1659,652.1 1660,652.1 1661,652.0 1662,652.1 1663,652.2 1664,652.2 1665,652.1 1666,650.7 1667,652.3 1668,652.2 1669,652.2 1670,652.4 1671,652.3 1672,652.1 1673,652.0 1674,652.2 1675,652.2 1676,652.4 1677,652.3 1678,652.3 1679,652.2 1680,652.2 1681,652.2 1682,650.7 1683,652.2 1684,652.5 1685,652.2 1686,652.2 1687,652.0 1688,652.0 1689,652.3 1690,652.2 1691,651.2 1692,652.3 1693,652.2 1694,652.3 1695,652.2 1696,652.3 1697,652.4 1698,652.1 1699,652.3 1700,652.2 1701,652.2 1702,652.2 1703,652.2 1704,652.2 1705,652.2 1706,652.2"/>
<polyline stroke="#00B050" points="111,757.9 112,757.9 113,757.9 114,758.3 115,758.1 116,758.0 117,759.0 118,758.1 119,757.8 120,757.9 121,758.0 122,758.0 123,758.0 124,757.9 125,758.1 126,757.9 127,757.0 128,758.0 129,758.2 130,756.9 131,758.0 132,758.0 133,757.9 134,757.9 135,757.8 136,758.0 137,757.8 138,757.2 139,758.0 140,757.8 141,758.0 142,757.8 143,758.1 144,757.9 145,757.9 146,758.0 147,758.0 148,758.0 149,757.9 150,758.0 151,757.8 152,757.8 153,758.0 154,756.4 155,757.9 156,758.0 157,757.8 158,757.8 159,758.0 160,758.1 161,758.0 162,758.1 163,757.9 164,758.0 165,758.1 166,758.0 167,758.0 168,758.0 169,758.1 170,758.0 171,756.6 172,758.2 173,756.5 174,758.0 175,758.0 176,757.9 177,758.2 178,758.0 179,758.1 180,757.9 181,758.1 182,757.9 183,758.1 184,758.2 185,757.9 186,756.7 187,756.3 188,758.2 189,758.0 190,758.0 191,758.0 192,758.0 193,758.1 194,757.9 195,756.7 196,757.9 197,758.1 198,758.1 199,758.0 200,758.3 201,757.9 202,758.0 203,758.1 204,757.9 205,757.7 206,758.0 207,758.2 208,758.2 209,758.0 210,758.1 211,757.0 212,758.0 213,757.8 214,758.0 215,757.9 216,758.0 217,757.9 218,758.2 219,758.0 220,758.4 221,758.0 222,758.0 223,758.0 224,758.1 225,757.8 226,758.2 227,758.1 228,757.8 229,758.4 230,756.6 231,758.0 232,758.1 233,758.1 234,758.0 235,758.0 236,758.0 237,757.9 238,758.1 239,758.2 240,758.0 241,756.8 242,758.1 243,758.2 244,758.1 245,758.0 246,758.0 247,758.0 248,757.9 249,758.2 250,758.2 251,757.8 252,757.9 253,758.0 254,757.7 255,758.0 256,758.0 257,758.0 258,757.9 259,758.0 260,758.0 261,757.8 262,758.0 263,758.2 264,759.4 265,758.2 266,758.2 267,757.3 268,758.1 269,758.2 270,758.1 271,758.1 272,758.0 273,758.0 274,756.7 275,756.9 276,758.0 277,758.2 278,758.1 279,758.2 280,758.1 281,757.4 282,758.8 283,757.2 284,758.1 285,758.1 286,758.1 287,758.0 288,758.1 289,757.1 290,758.8 291,758.1 292,757.9 293,758.2 294,758.1 295,758.1 296,758.2 297,758.1 298,758.0 299,757.9 300,758.1 301,758.2 302,758.0 303,758.0 304,758.0 305,758.1 306,758.3 307,758.0 308,758.3 309,756.4 310,758.1 311,758.0 312,758.1 313,758.0 314,758.3 315,758.1 316,758.0 317,758.1 318,758.0 319,758.1 320,758.3 321,758.0 322,758.0 323,758.1 324,758.2 325,758.0 326,758.2 327,758.4 328,758.0 329,758.2 330,757.9 331,758.2 332,758.1 333,758.1 334,758.2 335,757.9 336,757.9 337,758.1 338,758.1 339,758.2 340,758.3 341,758.1 342,758.2 343,758.1 344,758.2 345,758.1 346,758.0 347,757.5 348,758.2 349,758.1 350,758.1 351,758.3 352,758.2 353,758.1 354,758.1 355,757.9 356,758.2 357,758.1 358,758.3 359,758.2 360,758.1 361,758.2 362,758.1 363,756.6 364,758.1 365,758.3 366,758.0 367,758.1 368,757.9 369,758.3 370,758.0 371,758.1 372,758.3 373,758.1 374,758.0 375,758.0 376,757.9 377,758.2 378,758.1 379,758.2 380,759.1 381,758.0 382,758.2 383,758.0 384,758.2 385,758.1 386,758.1 387,757.9 388,758.2 389,758.2 390,758.0 391,758.0 392,758.2 393,758.4 394,758.0 395,758.3 396,758.1 397,758.3 398,758.2 399,758.2 400,758.0 401,759.2 402,758.2 403,758.3 404,758.0 405,758.3 406,758.3 407,758.2 408,758.3 409,758.4 410,758.0 411,758.2 412,758.1 413,758.2 414,758.1 415,758.2 416,757.2 417,758.1 418,756.7 419,757.1 420,758.3 421,758.4 422,758.2 423,758.3 424,758.1 425,758.1 426,758.1 427,758.0 428,758.4 429,758.4 430,758.0 431,758.0 432,758.2 433,758.4 434,758.2 435,758.1 436,758.0 437,758.0 438,758.3 439,758.2 440,758.1 441,758.1 442,758.0 443,758.4 444,758.1 445,758.3 446,758.2 447,758.1 448,758.0 449,758.2 450,758.2 451,758.2 452,758.2 453,758.2 454,758.4 455,758.3 456,758.2 457,758.0 458,758.3 459,758.3 460,758.2 461,758.2 462,758.0 463,758.4 464,758.0 465,758.2 466,758.1 467,758.3 468,758.2 469,758.1 470,758.1 471,758.2 472,758.1 473,758.2 474,758.3 475,758.2 476,758.1 477,758.4 478,758.1 479,758.4 480,758.1 481,758.4 482,758.0 483,757.9 484,758.3 485,758.0 486,756.7 487,758.3 488,758.0 489,758.3 490,758.1 491,758.3 492,757.9 493,758.3 494,758.3 495,758.2 496,757.0 497,758.1 498,758.3 499,758.3 500,758.3 501,758.1 502,756.7 503,758.1 504,758.1 505,758.0 506,758.1 507,758.1 508,758.2 509,758.2 510,758.1 511,758.2 512,758.1 513,758.3 514,758.1 515,756.8 516,758.4 517,758.4 518,758.4 519,758.5 520,757.9 521,758.1 522,758.3 523,758.2 524,757.5 525,758.3 526,758.3 527,758.3 528,758.3 529,757.6 530,758.0 531,758.3 532,758.2 533,758.3 534,758.3 535,758.3 536,758.4 537,758.3 538,758.3 539,756.8 540,758.2 541,758.0 542,758.1 543,758.3 544,758.2 545,757.7 546,758.1 547,757.2 548,758.3 549,758.4 550,758.2 551,758.2 552,758.3 553,758.2 554,758.5 555,758.1 556,758.1 557,758.3 558,758.3 559,758.5 560,758.3 561,758.2 562,758.2 563,758.0 564,758.4 565,758.1 566,758.1 567,758.3 568,758.3 569,757.0 570,757.4 571,758.5 572,758.2 573,758.3 574,758.4 575,758.4 576,758.2 577,758.3 578,758.1 579,758.3 580,758.3 581,758.3 582,758.4 583,758.2 584,758.4 585,758.5 586,758.3 587,758.2 588,758.2 589,759.7 590,758.2 591,758.3 592,758.3 593,758.3 594,758.4 595,758.4 596,758.3 597,757.3 598,758.2 599,758.5 600,758.2 601,758.2 602,758.3 603,758.0 604,756.7 605,758.3 606,758.5 607,758.4 608,758.2 609,758.3 610,758.2 611,758.4 612,758.2 613,758.5 614,758.3 615,758.4 616,758.5 617,758.4 618,758.3 619,758.2 620,758.1 621,758.2 622,758.3 623,758.3 624,758.1 625,758.4 626,758.3 627,756.7 628,757.1 629,757.5 630,758.2 631,758.4 632,758.4 633,758.2 634,758.0 635,756.9 636,758.5 637,758.4 638,758.4 639,758.1 640,758.1 641,758.4 642,758.3 643,758.6 644,759.1 645,758.5 646,758.6 647,758.3 648,758.5 649,758.5 650,758.2 651,758.5 652,757.5 653,758.3 654,758.2 655,758.2 656,758.1 657,756.6 658,758.2 659,758.5 660,758.5 661,756.8 662,758.3 663,758.3 664,758.4 665,758.3 666,758.2 667,758.4 668,758.5 669,758.4 670,758.4 671,758.4 672,758.4 673,758.4 674,759.8 675,758.2 676,758.3 677,758.2 678,758.0 679,758.4 680,758.3 681,758.4 682,758.2 683,758.4 684,758.5 685,758.2 686,758.4 687,757.3 688,758.1 689,758.3 690,758.5 691,758.2 692,758.3 693,758.5 694,758.3 695,758.3 696,758.5 697,757.3 698,758.3 699,758.5 700,758.3 701,758.4 702,758.2 703,758.4 704,758.5 705,758.4 706,758.4 707,758.3 708,758.2 709,758.5 710,758.4 711,758.5 712,758.3 713,758.1 714,758.5 715,758.4 716,758.3 717,757.3 718,758.2 719,758.4 720,758.2 721,758.3 722,758.2 723,758.5 724,758.1 725,758.6 726,758.4 727,758.5 728,757.4 729,758.5 730,757.1 731,758.3 732,758.3 733,758.2 734,757.0 735,758.3 736,758.3 737,758.4 738,758.2 739,758.4 740,758.3 741,758.1 742,757.0 743,758.2 744,758.3 745,758.2 746,758.3 747,758.2 748,758.2 749,758.2 750,758.2 751,758.3 752,758.2 753,758.1 754,758.3 755,758.1 756,758.1 757,758.1 758,758.2 759,758.4 760,758.1 761,758.4 762,758.3 763,758.1 764,758.3 765,758.3 766,757.2 767,758.3 768,758.5 769,758.2 770,758.2 771,756.9 772,758.1 773,758.1 774,758.2 775,758.2 776,758.2 777,758.4 778,758.0 779,758.1 780,758.1 781,759.6 782,758.2 783,758.0 784,758.4 785,758.1 786,757.8 787,758.1 788,758.0 789,756.9 790,758.4 791,758.1 792,758.0 793,758.0 794,758.1 795,758.0 796,758.1 797,757.2 798,757.1 799,758.0 800,758.1 801,757.9 802,758.0 803,758.1 804,758.2 805,758.0 806,758.0 807,757.9 808,758.0 809,756.8 810,758.0 811,757.8 812,757.9 813,757.9 814,757.9 815,757.8 816,757.7 817,758.1 818,757.1 819,758.0 820,758.0 821,757.6 822,757.9 823,759.6 824,757.7 825,757.7 826,757.6 827,758.0 828,757.8 829,757.6 830,757.8 831,756.7 832,757.7 833,757.6 834,758.0 835,757.7 836,757.7 837,757.7 838,757.4 839,757.6 840,757.7 841,757.8 842,757.5 843,756.3 844,757.6 845,757.4 846,756.3 847,757.6 848,757.6 849,757.5 850,757.6 851,757.6 852,757.3 853,757.5 854,755.8 855,757.3 856,756.1 857,757.5 858,757.6 859,757.4 860,757.4 861,757.4 862,757.5 863,757.5 864,757.4 865,756.7 866,757.3 867,757.3 868,757.3 869,757.4 870,757.6 871,757.3 872,757.4 873,757.3 874,757.4 875,757.3 876,757.5 877,757.1 878,757.1 879,757.4 880,757.1 881,757.1 882,758.5 883,757.2 884,755.4 885,757.0 886,757.0 887,757.0 888,757.1 889,756.8 890,756.8 891,756.8 892,757.0 893,756.9 894,756.8 895,756.9 896,755.6 897,756.9 898,756.7 899,756.6 900,757.3 901,756.6 902,756.6 903,756.7 904,755.5 905,756.5 906,756.3 907,756.3 908,756.3 909,756.2 910,756.2 911,756.2 912,756.3 913,756.2 914,756.1 915,756.1 916,756.2 917,755.8 918,756.0 919,755.8 920,756.0 921,755.8 922,755.8 923,755.4 924,755.7 925,755.5 926,755.3 927,755.5 928,755.4 929,755.3 930,755.1 931,755.2 932,755.2 933,755.0 934,755.2 935,754.9 936,753.8 937,754.8 938,754.6 939,754.6 940,754.6 941,754.4 942,754.4 943,754.2 944,754.0 945,754.1 946,753.9 947,753.9 948,753.9 949,753.5 950,753.6 951,753.4 952,752.2 953,753.2 954,753.0 955,752.8 956,752.6 957,752.3 958,752.3 959,752.4 960,752.1 961,751.8 962,751.5 963,751.3 964,751.2 965,751.2 966,750.8 967,750.6 968,750.3 969,749.9 970,749.6 971,748.4 972,749.2 973,748.8 974,748.5 975,748.2 976,747.9 977,747.4 978,747.1 979,746.7 980,746.4 981,745.8 982,746.0 983,744.7 984,744.2 985,743.5 986,742.8 987,742.3 988,741.5 989,739.3 990,739.9 991,739.1 992,738.4 993,737.4 994,736.2 995,734.1 996,734.1 997,732.8 998,731.6 999,729.2 1000,728.5 1001,727.2 1002,723.8 1003,723.4 1004,721.7 1005,719.6 1006,717.3 1007,715.1 1008,712.7 1009,710.2 1010,706.3 1011,704.3 1012,699.9 1013,698.4 1014,695.1 1015,690.2 1016,688.6 1017,685.0 1018,682.2 1019,679.1 1020,676.1 1021,673.7 1022,671.4 1023,669.7 1024,668.0 1025,667.2 1026,667.1 1027,667.2 1028,668.2 1029,669.3 1030,671.5 1031,673.4 1032,676.3 1033,679.2 1034,681.9 1035,685.1 1036,688.3 1037,691.6 1038,695.0 1039,698.2 1040,701.1 1041,704.3 1042,706.9 1043,709.6 1044,712.4 1045,714.6 1046,717.0 1047,719.0 1048,721.2 1049,723.1 1050,725.0 1051,726.7 1052,728.2 1053,729.5 1054,730.8 1055,732.4 1056,733.3 1057,734.5 1058,735.7 1059,736.7 1060,737.5 1061,738.2 1062,739.3 1063,740.2 1064,740.7 1065,741.3 1066,742.3 1067,742.6 1068,743.0 1069,743.7 1070,744.4 1071,744.9 1072,744.8 1073,744.4 1074,745.9 1075,746.4 1076,744.8 1077,746.9 1078,747.6 1079,746.5 1080,748.1 1081,748.2 1082,746.8 1083,748.5 1084,748.8 1085,749.3 1086,749.6 1087,749.3 1088,749.5 1089,750.0 1090,750.1 1091,750.3 1092,750.3 1093,750.5 1094,750.9 1095,750.9 1096,750.9 1097,749.9 1098,751.3 1099,751.1 1100,751.4 1101,751.3 1102,751.5 1103,751.7 1104,751.6 1105,751.6 1106,751.9 1107,752.1 1108,752.2 1109,751.9 1110,751.9 1111,751.9 1112,752.1 1113,752.0 1114,752.1 1115,752.3 1116,752.5 1117,752.1 1118,752.4 1119,752.3 1120,750.9 1121,752.1 1122,752.2 1123,752.3 1124,752.3 1125,752.2 1126,752.2 1127,752.4 1128,752.5 1129,751.1 1130,750.9 1131,752.3 1132,752.1 1133,752.3 1134,753.9 1135,750.6 1136,752.0 1137,752.0 1138,752.0 1139,751.9 1140,751.8 1141,751.9 1142,751.8 1143,751.4 1144,751.8 1145,751.5 1146,751.5 1147,751.1 1148,751.1 1149,751.2 1150,750.9 1151,751.1 1152,750.5 1153,750.6 1154,750.5 1155,750.1 1156,750.0 1157,748.9 1158,748.8 1159,749.8 1160,749.7 1161,749.6 1162,748.0 1163,749.1 1164,749.3 1165,748.9 1166,748.6 1167,748.2 1168,748.3 1169,747.9 1170,746.2 1171,747.5 1172,747.2 1173,747.1 1174,746.7 1175,746.5 1176,746.4 1177,746.1 1178,745.9 1179,745.3 1180,745.3 1181,744.8 1182,744.6 1183,744.5 1184,743.9 1185,743.5 1186,743.4 1187,743.1 1188,742.6 1189,742.4 1190,742.1 1191,741.8 1192,741.3 1193,742.0 1194,740.8 1195,740.1 1196,739.9 1197,739.9 1198,739.5 1199,739.1 1200,739.7 1201,738.3 1202,738.2 1203,737.8 1204,737.8 1205,737.5 1206,737.2 1207,737.1 1208,736.9 1209,736.8 1210,736.7 1211,736.5 1212,736.6 1213,736.4 1214,736.5 1215,736.5 1216,736.6 1217,736.8 1218,736.9 1219,736.8 1220,737.1 1221,737.0 1222,737.5 1223,736.6 1224,737.9 1225,736.8 1226,738.3 1227,738.7 1228,738.8 1229,739.2 1230,739.8 1231,740.0 1232,740.3 1233,740.7 1234,741.2 1235,741.6 1236,742.2 1237,742.4 1238,742.7 1239,743.4 1240,743.8 1241,744.0 1242,744.4 1243,744.7 1244,745.0 1245,745.8 1246,746.2 1247,746.5 1248,746.7 1249,746.4 1250,747.7 1251,748.0 1252,746.9 1253,748.7 1254,749.0 1255,749.5 1256,749.9 1257,750.1 1258,749.8 1259,750.8 1260,751.2 1261,751.3 1262,751.6 1263,752.0 1264,752.1 1265,752.4 1266,752.4 1267,752.9 1268,753.2 1269,753.4 1270,753.6 1271,754.0 1272,754.1 1273,754.4 1274,754.3 1275,754.5 1276,754.6 1277,754.8 1278,754.9 1279,755.1 1280,753.8 1281,755.4 1282,755.6 1283,755.7 1284,756.0 1285,756.0 1286,756.0 1287,757.2 1288,756.2 1289,756.3 1290,756.3 1291,756.3 1292,756.6 1293,756.6 1294,756.6 1295,756.6 1296,754.9 1297,755.8 1298,756.9 1299,756.7 1300,756.8 1301,756.3 1302,757.1 1303,757.3 1304,757.2 1305,757.3 1306,757.1 1307,757.0 1308,757.0 1309,757.2 1310,757.5 1311,757.4 1312,757.4 1313,757.4 1314,757.6 1315,757.5 1316,757.3 1317,757.4 1318,757.4 1319,757.4 1320,757.7 1321,757.5 1322,757.6 1323,757.7 1324,757.6 1325,757.8 1326,757.6 1327,757.8 1328,757.7 1329,757.9 1330,757.6 1331,757.8 1332,758.1 1333,757.6 1334,757.9 1335,757.8 1336,756.7 1337,757.9 1338,757.7 1339,756.9 1340,757.9 1341,757.8 1342,757.8 1343,757.8 1344,756.7 1345,758.0 1346,757.9 1347,757.9 1348,758.2 1349,757.9 1350,758.0 1351,758.0 1352,758.1 1353,757.1 1354,757.9 1355,757.9 1356,758.1 1357,756.4 1358,757.9 1359,758.2 1360,757.9 1361,758.1 1362,758.1 1363,758.3 1364,758.3 1365,758.2 1366,758.1 1367,758.1 1368,758.0 1369,758.1 1370,758.0 1371,758.1 1372,758.2 1373,758.1 1374,758.2 1375,758.1 1376,758.3 1377,758.1 1378,758.3 1379,758.3 1380,758.1 1381,758.2 1382,758.2 1383,757.0 1384,758.3 1385,756.4 1386,758.3 1387,758.4 1388,758.3 1389,758.3 1390,758.1 1391,758.1 1392,758.0 1393,758.2 1394,758.2 1395,758.3 1396,758.3 1397,758.3 1398,758.1 1399,758.1 1400,758.3 1401,758.2 1402,758.3 1403,758.2 1404,758.3 1405,758.3 1406,758.3 1407,756.8 1408,758.3 1409,758.4 1410,758.4 1411,758.3 1412,758.6 1413,758.3 1414,758.4 1415,758.2 1416,758.3 1417,758.3 1418,758.4 1419,758.3 1420,758.5 1421,758.5 1422,758.5 1423,758.5 1424,758.6 1425,758.4 1426,757.3 1427,757.2 1428,758.4 1429,758.5 1430,758.3 1431,758.2 1432,758.6 1433,758.3 1434,758.4 1435,758.5 1436,758.5 1437,758.5 1438,758.5 1439,758.5 1440,758.6 1441,758.6 1442,758.4 1443,758.6 1444,758.4 1445,758.5 1446,758.5 1447,758.4 1448,758.6 1449,758.5 1450,758.5 1451,758.5 1452,758.3 1453,758.3 1454,758.8 1455,758.3 1456,758.7 1457,758.5 1458,758.4 1459,758.7 1460,758.6 1461,758.6 1462,758.6 1463,758.4 1464,759.6 1465,758.6 1466,758.5 1467,758.5 1468,758.5 1469,758.4 1470,758.5 1471,758.4 1472,758.4 1473,758.6 1474,758.5 1475,758.5 1476,758.4 1477,758.5 1478,758.5 1479,758.5 1480,758.3 1481,758.6 1482,758.4 1483,758.7 1484,758.5 1485,758.4 1486,758.6 1487,758.5 1488,758.6 1489,758.4 1490,758.4 1491,758.6 1492,758.6 1493,758.5 1494,758.6 1495,758.6 1496,758.5 1497,758.7 1498,758.6 1499,758.4 1500,757.1 1501,758.6 1502,758.6 1503,758.7 1504,758.7 1505,758.3 1506,758.5 1507,758.6 1508,758.6 1509,758.6 1510,758.2 1511,758.4 1512,758.5 1513,758.4 1514,758.7 1515,758.6 1516,758.5 1517,758.7 1518,758.6 1519,757.4 1520,758.7 1521,758.5 1522,758.5 1523,758.7 1524,758.6 1525,758.5 1526,758.6 1527,758.4 1528,758.5 1529,758.4 1530,758.7 1531,758.4 1532,758.7 1533,758.7 1534,758.7 1535,757.8 1536,758.7 1537,758.8 1538,758.3 1539,758.5 1540,758.8 1541,758.6 1542,758.4 1543,758.6 1544,758.6 1545,758.6 1546,758.8 1547,758.7 1548,758.7 1549,758.5 1550,758.7 1551,758.3 1552,758.5 1553,758.7 1554,758.7 1555,758.5 1556,758.8 1557,758.7 1558,758.8 1559,757.4 1560,758.9 1561,758.5 1562,758.8 1563,758.3 1564,758.5 1565,758.8 1566,758.6 1567,758.9 1568,758.6 1569,758.6 1570,758.7 1571,757.5 1572,757.8 1573,758.7 1574,759.8 1575,758.6 1576,758.6 1577,758.7 1578,758.4 1579,758.5 1580,758.5 1581,758.5 1582,758.5 1583,758.6 1584,757.2 1585,758.7 1586,758.7 1587,758.6 1588,758.6 1589,758.7 1590,758.5 1591,758.7 1592,758.4 1593,757.3 1594,758.5 1595,758.8 1596,758.8 1597,758.8 1598,758.7 1599,758.5 1600,758.5 1601,758.6 1602,757.2 1603,758.7 1604,758.6 1605,758.7 1606,758.9 1607,757.7 1608,758.7 1609,758.7 1610,758.8 1611,757.0 1612,758.7 1613,758.4 1614,758.6 1615,758.6 1616,758.7 1617,758.8 1618,758.5 1619,758.5 1620,758.8 1621,759.5 1622,758.7 1623,758.8 1624,759.6 1625,758.6 1626,758.6 1627,758.7 1628,758.8 1629,758.9 1630,758.6 1631,757.8 1632,758.6 1633,758.5 1634,758.3 1635,757.7 1636,758.4 1637,758.4 1638,758.6 1639,758.6 1640,757.8 1641,758.7 1642,758.6 1643,758.8 1644,758.7 1645,758.6 1646,757.3 1647,758.9 1648,758.6 1649,758.7 1650,758.6 1651,758.8 1652,758.8 1653,758.8 1654,758.7 1655,758.5 1656,758.8 1657,757.4 1658,758.5 1659,758.7 1660,758.6 1661,758.8 1662,758.0 1663,758.7 1664,758.5 1665,758.6 1666,758.8 1667,758.8 1668,758.6 1669,758.5 1670,758.7 1671,758.6 1672,757.5 1673,758.7 1674,758.8 1675,758.6 1676,758.5 1677,758.7 1678,758.5 1679,758.7 1680,760.3 1681,758.6 1682,758.6 1683,758.6 1684,758.7 1685,758.7 1686,758.7 1687,758.6 1688,758.7 1689,758.7 1690,757.1 1691,758.6 1692,758.6 1693,758.5 1694,758.7 1695,758.7 1696,758.7 1697,758.8 1698,758.6 1699,759.6 1700,758.7 1701,758.7 1702,758.7 1703,758.7 1704,758.7 1705,758.7 1706,758.7"/>
<polyline stroke="#7E2EA1" points="111,863.5 112,863.5 113,863.6 114,863.7 115,861.8 116,863.6 117,863.6 118,863.8 119,863.6 120,863.5 121,863.7 122,863.6 123,863.6 124,863.7 125,863.5 126,863.5 127,863.6 128,863.6 129,863.5 130,863.8 131,863.5 132,863.5 133,863.7 134,862.2 135,863.8 136,863.5 137,863.8 138,863.5 139,862.5 140,863.7 141,863.5 142,863.5 143,863.5 144,863.6 145,862.2 146,863.9 147,862.9 148,865.1 149,863.6 150,863.5 151,863.7 152,863.5 153,863.7 154,863.5 155,862.0 156,863.4 157,863.6 158,863.7 159,863.7 160,863.7 161,863.8 162,863.6 163,863.8 164,863.7 165,863.7 166,863.7 167,863.8 168,863.4 169,863.5 170,863.7 171,863.8 172,863.7 173,863.8 174,863.8 175,863.4 176,863.6 177,863.6 178,863.8 179,863.6 180,863.7 181,863.6 182,863.6 183,863.8 184,863.7 185,863.8 186,863.7 187,863.6 188,863.6 189,863.9 190,863.8 191,863.6 192,863.8 193,862.5 194,863.6 195,863.8 196,862.5 197,863.7 198,863.7 199,863.7 200,863.8 201,863.7 202,863.8 203,863.9 204,863.8 205,863.8 206,863.6 207,863.8 208,863.7 209,864.0 210,863.8 211,863.6 212,862.3 213,863.8 214,862.2 215,863.7 216,863.8 217,863.9 218,864.0 219,863.8 220,863.7 221,863.7 222,863.9 223,864.0 224,863.8 225,863.7 226,863.8 227,863.7 228,864.1 229,863.8 230,863.5 231,863.7 232,863.9 233,863.8 234,863.7 235,863.6 236,863.7 237,862.8 238,865.2 239,863.8 240,864.0 241,863.7 242,863.9 243,863.7 244,863.9 245,863.8 246,863.9 247,864.2 248,862.6 249,863.8 250,863.9 251,862.7 252,863.8 253,864.0 254,863.9 255,863.9 256,863.9 257,864.8 258,863.9 259,863.8 260,864.0 261,863.8 262,863.9 263,863.9 264,864.0 265,864.0 266,863.8 267,864.1 268,863.9 269,864.0 270,863.9 271,863.8 272,863.9 273,863.9 274,864.1 275,863.7 276,864.0 277,863.9 278,862.9 279,864.0 280,864.1 281,864.0 282,864.0 283,863.9 284,862.8 285,863.9 286,863.7 287,863.8 288,864.1 289,863.8 290,863.6 291,864.0 292,864.0 293,863.9 294,863.8 295,863.9 296,863.9 297,863.8 298,863.8 299,864.1 300,863.8 301,863.9 302,864.1 303,863.9 304,863.8 305,863.9 306,864.0 307,863.9 308,862.2 309,863.9 310,863.9 311,864.1 312,864.0 313,864.1 314,864.2 315,863.8 316,863.7 317,864.2 318,863.7 319,863.1 320,862.4 321,863.9 322,864.1 323,864.0 324,864.0 325,863.8 326,863.9 327,864.0 328,864.2 329,864.2 330,863.8 331,863.9 332,864.1 333,862.3 334,864.1 335,863.9 336,864.1 337,864.2 338,864.2 339,863.9 340,862.7 341,864.2 342,863.9 343,864.0 344,863.0 345,864.3 346,863.9 347,864.2 348,864.1 349,864.0 350,864.1 351,863.9 352,864.1 353,864.1 354,863.9 355,864.1 356,864.0 357,864.0 358,864.1 359,864.0 360,864.0 361,864.3 362,864.1 363,863.9 364,864.1 365,864.1 366,864.2 367,864.2 368,864.1 369,864.0 370,864.1 371,864.1 372,863.9 373,863.9 374,864.0 375,864.2 376,864.2 377,864.3 378,864.1 379,864.1 380,864.1 381,863.3 382,864.1 383,863.1 384,863.4 385,863.9 386,864.1 387,863.8 388,864.2 389,864.3 390,864.2 391,864.2 392,863.4 393,863.2 394,863.9 395,864.1 396,865.4 397,864.1 398,864.3 399,864.2 400,864.2 401,863.0 402,864.2 403,864.1 404,864.0 405,864.1 406,864.3 407,864.3 408,864.0 409,864.1 410,864.1 411,864.2 412,864.3 413,864.2 414,864.1 415,864.3 416,864.1 417,864.2 418,864.0 419,864.1 420,864.3 421,864.3 422,864.2 423,864.3 424,864.1 425,864.4 426,864.2 427,864.3 428,864.2 429,864.2 430,864.2 431,864.1 432,864.1 433,864.2 434,864.2 435,864.2 436,864.0 437,864.1 438,862.6 439,863.0 440,864.2 441,864.1 442,864.1 443,864.2 444,864.2 445,864.4 446,864.4 447,863.9 448,864.3 449,864.1 450,864.1 451,864.4 452,864.4 453,864.2 454,864.2 455,863.0 456,864.4 457,863.3 458,864.2 459,864.2 460,864.1 461,864.1 462,864.2 463,864.2 464,864.3 465,864.4 466,864.4 467,864.3 468,864.4 469,864.3 470,864.4 471,864.4 472,864.1 473,864.1 474,864.3 475,864.3 476,864.3 477,864.5 478,864.4 479,864.3 480,864.2 481,864.1 482,862.8 483,864.4 484,864.2 485,864.3 486,864.4 487,864.3 488,864.4 489,863.7 490,864.2 491,864.1 492,864.2 493,864.3 494,864.3 495,864.3 496,864.2 497,864.3 498,864.5 499,864.4 500,863.7 501,864.2 502,864.3 503,864.4 504,864.1 505,864.2 506,864.6 507,864.2 508,864.3 509,864.2 510,864.5 511,864.4 512,864.3 513,864.4 514,864.5 515,864.2 516,864.5 517,864.4 518,864.4 519,863.2 520,864.4 521,864.4 522,864.3 523,864.3 524,863.7 525,864.3 526,864.3 527,864.6 528,864.4 529,864.4 530,864.6 531,864.2 532,864.2 533,864.3 534,864.2 535,864.5 536,864.4 537,864.2 538,864.3 539,864.4 540,862.6 541,864.4 542,864.1 543,864.4 544,864.3 545,864.6 546,863.2 547,864.4 548,864.4 549,864.2 550,864.3 551,864.3 552,864.5 553,864.2 554,864.1 555,864.6 556,864.2 557,864.4 558,864.3 559,864.2 560,864.2 561,864.2 562,864.3 563,864.3 564,864.3 565,864.3 566,864.6 567,864.6 568,864.3 569,864.4 570,864.4 571,864.3 572,864.4 573,864.1 574,864.1 575,863.2 576,864.3 577,864.4 578,864.4 579,864.3 580,864.6 581,864.1 582,864.4 583,864.5 584,864.3 585,864.4 586,864.4 587,864.3 588,864.1 589,864.2 590,864.5 591,864.2 592,864.3 593,864.1 594,864.2 595,864.3 596,864.3 597,864.2 598,864.3 599,864.3 600,864.5 601,864.3 602,864.3 603,864.4 604,864.2 605,864.4 606,864.2 607,864.4 608,864.4 609,864.3 610,864.3 611,864.1 612,864.2 613,864.2 614,864.1 615,862.7 616,864.4 617,863.1 618,864.3 619,864.2 620,864.6 621,864.2 622,864.2 623,864.1 624,864.6 625,863.3 626,864.3 627,864.2 628,864.1 629,864.4 630,864.3 631,864.3 632,864.1 633,864.3 634,864.1 635,864.4 636,864.2 637,864.2 638,864.2 639,864.2 640,864.3 641,864.2 642,864.1 643,864.3 644,864.1 645,864.3 646,864.4 647,864.2 648,864.3 649,864.3 650,865.2 651,864.4 652,864.2 653,864.3 654,864.0 655,864.1 656,864.3 657,864.4 658,864.2 659,864.2 660,864.3 661,864.3 662,864.2 663,864.1 664,864.4 665,864.4 666,864.2 667,863.3 668,864.2 669,864.2 670,864.1 671,864.3 672,865.9 673,864.3 674,864.3 675,864.2 676,864.1 677,864.1 678,864.2 679,864.1 680,864.5 681,864.1 682,864.2 683,864.2 684,864.3 685,864.2 686,864.3 687,864.2 688,864.3 689,864.3 690,864.3 691,864.2 692,864.1 693,864.0 694,863.3 695,864.5 696,863.0 697,864.2 698,864.1 699,862.5 700,864.1 701,864.0 702,864.1 703,864.1 704,864.0 705,864.3 706,864.1 707,864.1 708,864.1 709,864.2 710,864.1 711,864.2 712,863.8 713,864.0 714,864.2 715,864.0 716,864.3 717,864.1 718,864.2 719,862.6 720,864.2 721,864.2 722,864.0 723,864.1 724,864.2 725,864.1 726,864.1 727,864.0 728,863.9 729,863.9 730,863.0 731,863.4 732,862.5 733,864.0 734,862.9 735,864.2 736,864.1 737,864.2 738,863.9 739,864.1 740,864.1 741,864.0 742,864.0 743,864.0 744,864.1 745,864.1 746,863.9 747,864.2 748,864.0 749,864.0 750,864.2 751,863.9 752,864.1 753,864.0 754,863.8 755,862.5 756,863.9 757,863.1 758,864.2 759,862.6 760,864.2 761,863.9 762,864.0 763,864.1 764,864.1 765,864.2 766,863.9 767,863.9 768,864.2 769,863.8 770,864.1 771,864.2 772,864.1 773,865.3 774,863.9 775,864.0 776,863.9 777,863.9 778,863.8 779,864.0 780,864.0 781,864.1 782,863.9 783,863.9 784,864.1 785,864.1 786,863.9 787,863.9 788,863.7 789,863.8 790,863.9 791,863.7 792,864.0 793,863.8 794,862.6 795,863.7 796,863.8 797,863.9 798,863.0 799,863.8 800,864.0 801,863.9 802,863.7 803,863.6 804,863.8 805,864.0 806,863.9 807,863.8 808,863.6 809,864.0 810,863.8 811,863.9 812,863.7 813,863.6 814,864.0 815,863.8 816,863.7 817,863.7 818,863.5 819,863.7 820,863.9 821,863.6 822,863.8 823,863.6 824,863.8 825,863.6 826,863.9 827,863.6 828,863.8 829,863.7 830,863.7 831,863.5 832,863.7 833,863.7 834,863.7 835,862.4 836,863.6 837,863.5 838,863.9 839,863.5 840,864.7 841,863.5 842,863.7 843,863.5 844,863.5 845,863.4 846,863.4 847,863.4 848,863.7 849,863.5 850,863.5 851,863.8 852,863.5 853,863.5 854,863.5 855,863.5 856,863.4 857,863.2 858,863.4 859,863.7 860,863.5 861,863.5 862,863.2 863,863.4 864,862.5 865,863.4 866,863.3 867,863.1 868,863.5 869,863.2 870,862.3 871,863.2 872,863.1 873,863.1 874,863.1 875,863.3 876,862.0 877,862.9 878,862.9 879,863.1 880,863.3 881,863.1 882,862.9 883,863.1 884,863.0 885,863.0 886,863.0 887,862.9 888,862.8 889,863.0 890,862.8 891,863.1 892,863.0 893,862.7 894,863.0 895,863.0 896,862.6 897,862.8 898,862.7 899,862.6 900,862.4 901,862.7 902,862.6 903,862.9 904,861.3 905,862.6 906,862.6 907,862.6 908,861.3 909,862.3 910,862.3 911,862.2 912,862.1 913,862.1 914,862.0 915,862.3 916,862.3 917,862.2 918,861.8 919,862.0 920,861.9 921,862.2 922,862.0 923,861.9 924,861.8 925,861.8 926,861.7 927,860.0 928,861.6 929,861.6 930,861.4 931,861.5 932,861.2 933,861.1 934,861.4 935,861.4 936,861.1 937,860.8 938,861.2 939,860.6 940,860.8 941,860.7 942,860.5 943,860.4 944,860.4 945,860.3 946,860.2 947,860.3 948,860.2 949,860.0 950,858.0 951,859.5 952,859.4 953,859.6 954,859.3 955,859.1 956,858.9 957,859.0 958,857.9 959,858.4 960,858.3 961,858.1 962,858.0 963,857.1 964,857.6 965,856.7 966,857.3 967,857.1 968,856.8 969,857.8 970,856.3 971,854.9 972,856.0 973,853.6 974,855.0 975,854.7 976,854.4 977,854.1 978,852.2 979,853.2 980,852.8 981,852.3 982,852.1 983,851.6 984,850.9 985,850.3 986,849.6 987,849.0 988,848.2 989,847.4 990,846.9 991,845.2 992,845.2 993,844.3 994,843.4 995,842.4 996,839.5 997,839.8 998,838.9 999,836.3 1000,836.2 1001,834.6 1002,831.5 1003,831.1 1004,829.2 1005,827.3 1006,825.5 1007,823.1 1008,820.8 1009,818.9 1010,816.1 1011,813.4 1012,811.1 1013,808.4 1014,805.8 1015,803.3 1016,800.8 1017,798.5 1018,796.2 1019,794.3 1020,792.7 1021,791.3 1022,790.1 1023,789.7 1024,789.5 1025,789.8 1026,790.5 1027,791.7 1028,793.2 1029,795.0 1030,795.2 1031,799.1 1032,801.5 1033,804.1 1034,806.6 1035,809.2 1036,813.3 1037,814.5 1038,816.9 1039,819.3 1040,820.9 1041,823.9 1042,825.9 1043,828.1 1044,829.5 1045,831.5 1046,833.1 1047,834.5 1048,836.3 1049,837.5 1050,838.8 1051,839.9 1052,841.4 1053,842.2 1054,843.2 1055,844.0 1056,845.1 1057,846.0 1058,846.6 1059,847.5 1060,848.0 1061,848.5 1062,849.0 1063,849.7 1064,850.2 1065,850.7 1066,851.2 1067,851.6 1068,852.2 1069,852.3 1070,852.6 1071,853.0 1072,853.5 1073,853.9 1074,853.9 1075,854.4 1076,854.6 1077,854.9 1078,854.8 1079,855.2 1080,855.5 1081,855.5 1082,855.6 1083,855.9 1084,856.1 1085,856.4 1086,856.5 1087,856.4 1088,856.8 1089,856.8 1090,857.0 1091,855.6 1092,857.1 1093,857.0 1094,857.1 1095,856.4 1096,857.2 1097,857.3 1098,857.6 1099,857.2 1100,857.4 1101,857.6 1102,857.7 1103,857.9 1104,857.6 1105,857.6 1106,857.8 1107,857.9 1108,857.6 1109,858.0 1110,857.8 1111,857.8 1112,858.0 1113,857.9 1114,857.9 1115,857.9 1116,858.1 1117,858.0 1118,858.0 1119,858.0 1120,856.6 1121,858.2 1122,858.0 1123,858.1 1124,857.8 1125,858.1 1126,856.7 1127,858.0 1128,858.0 1129,858.2 1130,858.2 1131,857.8 1132,857.9 1133,857.8 1134,858.1 1135,857.7 1136,857.9 1137,858.0 1138,858.0 1139,857.8 1140,857.7 1141,857.7 1142,857.7 1143,857.8 1144,857.5 1145,857.6 1146,857.4 1147,857.4 1148,857.6 1149,857.3 1150,857.4 1151,857.2 1152,856.9 1153,857.1 1154,857.2 1155,856.9 1156,857.0 1157,856.5 1158,856.5 1159,856.4 1160,856.6 1161,854.9 1162,856.0 1163,855.0 1164,856.1 1165,855.9 1166,855.7 1167,855.5 1168,855.7 1169,855.3 1170,853.6 1171,855.1 1172,854.9 1173,854.7 1174,854.3 1175,854.3 1176,854.1 1177,854.1 1178,853.7 1179,853.4 1180,853.1 1181,853.0 1182,852.9 1183,852.7 1184,852.5 1185,852.0 1186,851.7 1187,851.8 1188,851.3 1189,851.2 1190,851.0 1191,852.0 1192,850.6 1193,850.4 1194,849.9 1195,849.9 1196,848.3 1197,849.2 1198,849.3 1199,848.9 1200,848.6 1201,848.6 1202,848.3 1203,848.3 1204,848.1 1205,847.8 1206,847.7 1207,847.8 1208,847.6 1209,846.0 1210,847.5 1211,847.3 1212,847.6 1213,847.5 1214,847.1 1215,847.3 1216,847.5 1217,847.7 1218,847.7 1219,847.9 1220,848.2 1221,848.2 1222,848.2 1223,848.4 1224,848.9 1225,848.8 1226,849.3 1227,849.3 1228,849.5 1229,849.9 1230,850.2 1231,850.4 1232,850.7 1233,851.3 1234,851.4 1235,851.7 1236,852.3 1237,852.4 1238,852.5 1239,852.9 1240,853.2 1241,853.5 1242,853.9 1243,854.1 1244,854.3 1245,854.9 1246,855.1 1247,855.3 1248,855.7 1249,855.9 1250,856.2 1251,856.5 1252,856.7 1253,857.2 1254,857.3 1255,857.6 1256,857.8 1257,858.2 1258,858.3 1259,858.6 1260,858.8 1261,859.0 1262,859.3 1263,859.6 1264,859.7 1265,859.7 1266,859.9 1267,860.2 1268,860.6 1269,860.6 1270,860.8 1271,859.6 1272,861.0 1273,860.9 1274,861.3 1275,861.5 1276,861.6 1277,861.5 1278,861.8 1279,861.9 1280,861.0 1281,861.9 1282,862.1 1283,862.3 1284,862.3 1285,862.4 1286,862.5 1287,862.3 1288,862.5 1289,862.8 1290,862.7 1291,862.9 1292,862.0 1293,863.2 1294,863.1 1295,863.1 1296,863.0 1297,862.2 1298,863.0 1299,863.3 1300,863.4 1301,863.3 1302,863.6 1303,863.3 1304,863.4 1305,864.6 1306,863.6 1307,863.5 1308,863.5 1309,863.7 1310,863.7 1311,863.6 1312,863.7 1313,863.7 1314,862.6 1315,863.8 1316,863.9 1317,863.6 1318,864.0 1319,863.7 1320,863.7 1321,864.0 1322,863.8 1323,863.8 1324,863.7 1325,863.7 1326,864.0 1327,863.9 1328,863.8 1329,863.7 1330,863.8 1331,863.8 1332,864.1 1333,863.9 1334,864.0 1335,864.0 1336,864.2 1337,863.9 1338,863.8 1339,863.9 1340,864.1 1341,863.9 1342,864.1 1343,864.3 1344,864.3 1345,864.0 1346,864.1 1347,863.9 1348,864.2 1349,864.1 1350,862.4 1351,864.1 1352,864.3 1353,864.3 1354,864.1 1355,864.3 1356,864.3 1357,864.2 1358,864.3 1359,865.3 1360,864.1 1361,864.2 1362,864.3 1363,864.4 1364,864.2 1365,864.2 1366,864.2 1367,864.2 1368,864.1 1369,864.4 1370,864.4 1371,864.2 1372,864.2 1373,864.4 1374,864.2 1375,864.4 1376,864.2 1377,863.0 1378,864.2 1379,864.4 1380,864.4 1381,864.3 1382,864.3 1383,864.3 1384,864.4 1385,864.3 1386,864.5 1387,864.2 1388,864.3 1389,864.4 1390,864.4 1391,864.6 1392,864.4 1393,864.5 1394,864.5 1395,863.5 1396,864.3 1397,864.3 1398,864.5 1399,864.3 1400,864.4 1401,864.4 1402,864.4 1403,864.5 1404,864.2 1405,864.3 1406,864.6 1407,864.3 1408,864.4 1409,864.5 1410,864.2 1411,864.5 1412,864.3 1413,864.8 1414,864.5 1415,864.5 1416,864.4 1417,864.4 1418,864.5 1419,864.5 1420,864.5 1421,864.5 1422,864.6 1423,864.7 1424,864.6 1425,864.5 1426,864.4 1427,864.7 1428,864.5 1429,864.5 1430,864.5 1431,864.5 1432,864.7 1433,864.6 1434,864.5 1435,864.7 1436,864.5 1437,865.7 1438,864.4 1439,864.7 1440,864.9 1441,864.6 1442,864.5 1443,864.6 1444,864.6 1445,863.1 1446,864.7 1447,864.8 1448,864.5 1449,864.7 1450,864.6 1451,864.7 1452,865.0 1453,864.5 1454,864.6 1455,864.6 1456,864.8 1457,864.7 1458,864.5 1459,864.8 1460,864.7 1461,864.5 1462,864.6 1463,863.7 1464,864.6 1465,864.7 1466,864.6 1467,864.4 1468,864.6 1469,864.5 1470,864.0 1471,864.6 1472,864.5 1473,864.6 1474,864.8 1475,866.1 1476,864.7 1477,864.7 1478,864.6 1479,864.5 1480,864.7 1481,864.8 1482,864.0 1483,864.7 1484,864.8 1485,864.7 1486,864.8 1487,863.2 1488,864.7 1489,864.7 1490,864.5 1491,864.5 1492,863.1 1493,864.7 1494,864.7 1495,864.6 1496,864.9 1497,863.9 1498,864.8 1499,864.8 1500,865.0 1501,863.9 1502,864.8 1503,864.8 1504,864.8 1505,864.8 1506,864.9 1507,864.8 1508,864.9 1509,863.8 1510,864.9 1511,864.8 1512,865.8 1513,864.8 1514,865.0 1515,864.8 1516,864.8 1517,864.8 1518,864.8 1519,864.7 1520,864.7 1521,865.0 1522,864.7 1523,864.9 1524,865.0 1525,864.8 1526,865.1 1527,864.9 1528,865.0 1529,864.8 1530,864.9 1531,864.8 1532,864.9 1533,864.8 1534,864.9 1535,865.1 1536,863.8 1537,864.9 1538,864.7 1539,864.9 1540,865.1 1541,864.9 1542,865.1 1543,864.9 1544,864.9 1545,865.0 1546,864.8 1547,865.0 1548,864.8 1549,864.9 1550,865.1 1551,864.8 1552,865.0 1553,864.9 1554,864.9 1555,865.1 1556,865.0 1557,864.8 1558,864.9 1559,864.9 1560,864.9 1561,864.8 1562,865.0 1563,864.9 1564,865.1 1565,865.0 1566,865.1 1567,864.8 1568,864.8 1569,865.1 1570,865.0 1571,864.7 1572,865.0 1573,865.1 1574,863.2 1575,863.9 1576,865.2 1577,865.2 1578,865.0 1579,864.8 1580,865.0 1581,864.9 1582,864.9 1583,863.9 1584,864.9 1585,865.2 1586,864.9 1587,864.9 1588,863.7 1589,865.1 1590,865.1 1591,864.9 1592,865.0 1593,865.1 1594,865.1 1595,865.0 1596,865.1 1597,864.2 1598,865.1 1599,864.9 1600,866.2 1601,865.1 1602,865.2 1603,865.1 1604,865.2 1605,865.0 1606,865.0 1607,865.0 1608,865.0 1609,865.3 1610,865.2 1611,863.8 1612,865.1 1613,865.1 1614,865.2 1615,865.2 1616,865.2 1617,863.8 1618,865.1 1619,864.9 1620,865.0 1621,865.0 1622,865.2 1623,865.3 1624,865.3 1625,865.2 1626,865.0 1627,865.0 1628,865.2 1629,865.1 1630,865.1 1631,865.1 1632,865.1 1633,865.2 1634,865.1 1635,865.2 1636,864.1 1637,863.3 1638,865.1 1639,865.1 1640,865.1 1641,865.1 1642,865.0 1643,865.3 1644,865.2 1645,865.2 1646,865.1 1647,863.5 1648,865.1 1649,865.0 1650,865.3 1651,865.0 1652,865.1 1653,865.2 1654,865.1 1655,865.0 1656,865.2 1657,865.1 1658,865.2 1659,865.1 1660,863.6 1661,864.9 1662,866.3 1663,865.3 1664,863.9 1665,865.3 1666,865.3 1667,866.6 1668,865.0 1669,864.4 1670,865.3 1671,865.2 1672,865.1 1673,865.2 1674,865.1 1675,865.2 1676,865.2 1677,865.2 1678,865.0 1679,865.1 1680,865.1 1681,865.0 1682,865.1 1683,863.6 1684,865.3 1685,865.1 1686,865.4 1687,865.4 1688,865.4 1689,865.2 1690,865.2 1691,864.1 1692,864.9 1693,864.9 1694,865.4 1695,865.0 1696,864.1 1697,865.1 1698,865.1 1699,865.3 1700,865.2 1701,865.2 1702,865.2 1703,865.2 1704,865.2 1705,865.2 1706,865.2"/>
<polyline stroke="#FF6600" points="111,970.3 112,970.3 113,970.3 114,970.4 115,970.5 116,970.3 117,970.4 118,970.3 119,970.4 120,970.2 121,970.5 122,970.3 123,970.3 124,970.5 125,970.3 126,970.6 127,970.6 128,970.3 129,970.4 130,970.3 131,970.3 132,970.3 133,970.3 134,970.2 135,970.3 136,969.3 137,970.4 138,970.3 139,970.3 140,970.4 141,970.2 142,970.3 143,969.8 144,969.3 145,970.2 146,969.8 147,970.3 148,970.2 149,969.0 150,970.4 151,970.4 152,970.5 153,970.3 154,970.4 155,970.2 156,969.1 157,970.1 158,970.5 159,970.3 160,970.6 161,970.2 162,970.2 163,970.5 164,970.3 165,970.3 166,970.4 167,970.3 168,970.4 169,970.3 170,970.2 171,970.5 172,970.7 173,970.3 174,970.5 175,970.5 176,970.6 177,968.8 178,970.5 179,970.5 180,970.5 181,969.6 182,970.4 183,970.4 184,970.4 185,970.3 186,970.4 187,970.3 188,970.4 189,970.5 190,970.3 191,970.3 192,970.6 193,970.4 194,970.2 195,970.5 196,970.4 197,971.8 198,970.5 199,970.3 200,970.5 201,970.4 202,970.4 203,969.4 204,970.5 205,970.4 206,970.4 207,970.4 208,970.4 209,970.4 210,970.4 211,970.4 212,970.4 213,970.5 214,970.7 215,970.4 216,970.5 217,970.6 218,970.6 219,970.4 220,970.4 221,970.6 222,970.7 223,970.2 224,970.6 225,970.3 226,970.5 227,970.5 228,970.5 229,970.7 230,970.4 231,970.5 232,969.0 233,970.5 234,970.7 235,970.3 236,970.6 237,970.5 238,970.5 239,970.4 240,970.6 241,970.7 242,970.5 243,970.5 244,970.4 245,970.4 246,970.6 247,970.5 248,970.6 249,970.6 250,968.9 251,970.7 252,970.5 253,970.6 254,970.6 255,970.6 256,970.5 257,970.7 258,970.5 259,970.5 260,970.6 261,970.5 262,970.5 263,970.7 264,970.6 265,970.4 266,970.3 267,970.5 268,970.4 269,970.4 270,970.7 271,970.5 272,970.6 273,970.5 274,969.1 275,970.5 276,970.5 277,970.6 278,970.8 279,970.5 280,970.5 281,969.2 282,970.8 283,970.6 284,970.7 285,970.6 286,970.6 287,970.5 288,970.5 289,970.5 290,970.7 291,969.3 292,970.6 293,970.7 294,970.6 295,970.7 296,970.4 297,969.0 298,970.7 299,970.8 300,970.6 301,970.7 302,970.6 303,970.7 304,970.5 305,970.5 306,970.5 307,970.6 308,970.6 309,970.8 310,970.4 311,970.7 312,970.5 313,969.6 314,971.4 315,970.7 316,970.6 317,969.4 318,970.6 319,970.6 320,970.8 321,970.6 322,970.6 323,970.7 324,970.7 325,970.5 326,970.5 327,968.7 328,970.5 329,970.6 330,970.8 331,970.7 332,970.6 333,970.7 334,970.5 335,970.8 336,970.6 337,970.6 338,970.6 339,970.6 340,970.7 341,970.7 342,970.6 343,970.7 344,970.5 345,970.7 346,969.8 347,969.6 348,970.9 349,970.6 350,970.6 351,970.4 352,970.5 353,970.6 354,970.5 355,970.6 356,970.8 357,970.9 358,970.5 359,970.8 360,970.8 361,970.5 362,970.7 363,970.7 364,970.7 365,972.2 366,970.7 367,970.7 368,970.6 369,970.7 370,970.6 371,971.9 372,969.7 373,970.7 374,971.0 375,970.9 376,970.7 377,970.6 378,970.7 379,970.7 380,970.7 381,972.1 382,969.8 383,970.1 384,970.9 385,970.4 386,970.8 387,972.2 388,970.8 389,970.6 390,970.6 391,970.7 392,971.0 393,970.5 394,970.7 395,970.7 396,969.3 397,970.9 398,970.8 399,970.7 400,970.7 401,970.8 402,970.6 403,970.7 404,970.9 405,970.7 406,970.9 407,970.7 408,970.5 409,970.8 410,970.7 411,970.7 412,970.9 413,970.8 414,969.1 415,970.9 416,970.9 417,970.6 418,970.7 419,970.7 420,969.2 421,970.8 422,970.6 423,970.6 424,970.9 425,970.7 426,970.7 427,970.8 428,970.4 429,970.6 430,970.8 431,970.5 432,970.6 433,970.7 434,970.7 435,969.9 436,970.8 437,970.9 438,970.8 439,970.8 440,970.5 441,969.9 442,971.0 443,970.7 444,970.6 445,971.0 446,970.7 447,970.7 448,970.9 449,970.6 450,970.7 451,970.7 452,970.9 453,970.7 454,970.8 455,970.8 456,970.7 457,970.9 458,970.8 459,971.0 460,970.8 461,970.7 462,970.8 463,970.7 464,970.6 465,969.7 466,970.7 467,970.8 468,970.8 469,970.8 470,970.5 471,970.7 472,969.2 473,970.1 474,969.8 475,970.8 476,970.6 477,970.9 478,970.5 479,969.4 480,970.7 481,971.0 482,970.8 483,970.7 484,970.6 485,970.7 486,971.0 487,970.7 488,971.0 489,970.7 490,970.9 491,970.6 492,970.7 493,970.9 494,970.9 495,970.9 496,971.0 497,970.8 498,970.9 499,970.7 500,970.7 501,970.8 502,970.8 503,969.6 504,970.8 505,970.7 506,970.9 507,970.8 508,970.7 509,970.9 510,970.7 511,970.9 512,970.8 513,970.8 514,970.9 515,970.8 516,970.9 517,970.8 518,970.6 519,970.8 520,970.8 521,970.9 522,969.4 523,970.9 524,970.7 525,969.0 526,970.5 527,970.9 528,970.8 529,970.8 530,970.8 531,970.9 532,970.8 533,971.0 534,970.8 535,970.7 536,970.8 537,970.9 538,971.0 539,970.6 540,970.8 541,970.9 542,970.9 543,970.8 544,971.0 545,970.8 546,970.0 547,970.8 548,971.2 549,970.7 550,970.7 551,970.7 552,970.8 553,971.0 554,970.7 555,971.2 556,970.9 557,971.0 558,970.6 559,970.8 560,971.0 561,970.9 562,970.8 563,970.8 564,970.7 565,970.9 566,970.8 567,969.6 568,970.9 569,970.8 570,970.9 571,970.7 572,970.9 573,971.0 574,970.8 575,970.7 576,970.9 577,970.9 578,970.8 579,970.9 580,970.9 581,970.8 582,971.0 583,970.6 584,970.9 585,970.8 586,970.9 587,971.0 588,970.7 589,969.3 590,970.7 591,970.8 592,971.1 593,970.9 594,970.6 595,971.0 596,970.7 597,970.8 598,970.9 599,970.7 600,970.8 601,970.9 602,970.8 603,970.9 604,970.8 605,970.9 606,970.9 607,970.8 608,969.9 609,971.0 610,971.0 611,970.8 612,970.8 613,970.9 614,970.8 615,970.9 616,969.1 617,970.8 618,970.9 619,970.8 620,970.9 621,970.9 622,970.8 623,969.4 624,970.8 625,970.7 626,970.8 627,970.0 628,970.9 629,971.0 630,971.0 631,969.3 632,970.6 633,971.0 634,970.9 635,971.1 636,970.1 637,970.9 638,970.9 639,970.6 640,970.9 641,970.7 642,969.8 643,970.8 644,971.0 645,970.8 646,971.0 647,970.9 648,970.8 649,971.1 650,970.8 651,970.8 652,971.0 653,970.9 654,970.9 655,971.0 656,970.9 657,970.1 658,970.9 659,970.9 660,970.7 661,970.7 662,970.9 663,970.7 664,970.9 665,970.9 666,971.0 667,971.0 668,970.9 669,971.0 670,970.9 671,970.9 672,969.1 673,970.9 674,971.0 675,970.7 676,970.8 677,970.8 678,970.8 679,970.9 680,971.1 681,970.8 682,971.0 683,970.9 684,970.9 685,970.9 686,970.9 687,970.7 688,970.2 689,970.9 690,970.8 691,970.9 692,970.7 693,970.8 694,970.8 695,970.9 696,970.6 697,971.1 698,971.0 699,970.9 700,971.0 701,970.9 702,971.0 703,970.8 704,970.8 705,970.8 706,971.0 707,970.6 708,970.9 709,970.8 710,969.6 711,970.6 712,971.0 713,970.0 714,971.1 715,970.6 716,971.0 717,970.8 718,970.6 719,970.7 720,970.9 721,969.5 722,971.0 723,970.8 724,970.8 725,971.1 726,970.7 727,970.8 728,970.9 729,970.7 730,970.8 731,970.7 732,970.8 733,971.0 734,970.6 735,970.8 736,970.6 737,971.2 738,970.9 739,969.8 740,970.8 741,970.9 742,970.8 743,970.8 744,970.5 745,970.9 746,971.0 747,970.0 748,970.9 749,970.7 750,970.8 751,972.3 752,970.8 753,970.7 754,970.7 755,970.7 756,970.5 757,970.8 758,970.9 759,970.7 760,970.7 761,969.9 762,970.7 763,970.9 764,971.6 765,970.7 766,970.7 767,970.7 768,970.6 769,970.6 770,970.7 771,970.7 772,970.7 773,970.6 774,970.6 775,970.8 776,970.6 777,970.4 778,970.6 779,970.4 780,970.6 781,970.8 782,970.5 783,970.6 784,970.7 785,970.5 786,970.5 787,970.4 788,971.5 789,970.6 790,970.4 791,970.7 792,970.6 793,970.7 794,970.4 795,970.5 796,970.6 797,970.6 798,970.6 799,970.6 800,970.6 801,970.6 802,970.5 803,970.6 804,970.5 805,971.8 806,970.4 807,970.4 808,970.7 809,970.6 810,970.5 811,968.9 812,969.2 813,970.6 814,970.5 815,970.5 816,970.4 817,970.3 818,970.3 819,970.4 820,969.1 821,970.5 822,970.3 823,970.3 824,970.3 825,970.4 826,970.3 827,970.4 828,970.3 829,970.4 830,970.4 831,970.2 832,970.2 833,970.3 834,970.2 835,970.2 836,970.2 837,970.2 838,970.0 839,970.3 840,970.4 841,970.2 842,970.0 843,970.2 844,970.1 845,970.2 846,969.2 847,969.8 848,970.2 849,970.2 850,970.0 851,970.3 852,970.3 853,970.2 854,970.1 855,969.3 856,970.0 857,969.3 858,970.0 859,970.1 860,970.0 861,970.1 862,969.8 863,969.7 864,969.8 865,970.0 866,969.9 867,969.6 868,969.8 869,969.6 870,969.7 871,969.6 872,969.7 873,969.7 874,969.7 875,969.6 876,969.6 877,969.6 878,969.9 879,969.6 880,969.3 881,969.3 882,969.3 883,969.2 884,968.3 885,969.3 886,969.2 887,969.5 888,969.5 889,967.7 890,969.1 891,969.1 892,969.2 893,969.3 894,969.1 895,969.0 896,969.0 897,969.0 898,968.9 899,968.7 900,969.0 901,969.0 902,967.4 903,968.9 904,968.8 905,968.4 906,968.5 907,968.3 908,968.5 909,968.3 910,968.3 911,968.5 912,968.1 913,968.1 914,968.2 915,968.1 916,967.9 917,969.5 918,967.9 919,967.6 920,966.9 921,967.4 922,967.8 923,967.6 924,966.3 925,967.6 926,967.2 927,967.6 928,967.3 929,967.1 930,966.0 931,967.1 932,967.0 933,966.9 934,966.9 935,966.8 936,967.9 937,966.5 938,966.6 939,966.2 940,966.4 941,966.2 942,967.7 943,966.0 944,966.1 945,966.0 946,965.8 947,965.6 948,965.3 949,965.6 950,965.3 951,965.3 952,964.5 953,964.8 954,964.9 955,964.7 956,964.5 957,964.5 958,964.3 959,964.3 960,963.8 961,963.7 962,962.0 963,963.5 964,963.4 965,963.1 966,962.9 967,962.6 968,962.7 969,962.3 970,962.1 971,961.9 972,961.4 973,961.2 974,960.8 975,961.8 976,960.5 977,960.0 978,959.6 979,959.5 980,958.8 981,957.8 982,958.2 983,957.7 984,956.3 985,956.5 986,956.0 987,955.5 988,954.6 989,953.6 990,953.7 991,953.0 992,952.3 993,951.4 994,950.5 995,949.6 996,948.5 997,947.7 998,946.2 999,943.8 1000,944.3 1001,942.8 1002,941.1 1003,940.0 1004,938.4 1005,936.9 1006,935.2 1007,934.3 1008,931.5 1009,929.6 1010,927.4 1011,925.4 1012,922.0 1013,921.1 1014,917.7 1015,916.7 1016,914.5 1017,912.3 1018,909.9 1019,908.6 1020,906.6 1021,904.9 1022,903.5 1023,902.9 1024,901.9 1025,901.6 1026,901.6 1027,901.7 1028,902.5 1029,903.3 1030,904.6 1031,906.1 1032,907.6 1033,909.7 1034,911.7 1035,913.5 1036,916.0 1037,918.0 1038,920.0 1039,920.6 1040,923.3 1041,926.5 1042,928.2 1043,930.5 1044,932.2 1045,934.0 1046,935.7 1047,937.2 1048,938.7 1049,940.1 1050,941.6 1051,941.8 1052,943.9 1053,945.1 1054,946.0 1055,947.2 1056,948.1 1057,948.9 1058,949.5 1059,950.5 1060,951.3 1061,952.2 1062,952.7 1063,953.0 1064,953.6 1065,954.2 1066,954.8 1067,955.3 1068,955.7 1069,956.1 1070,956.3 1071,956.9 1072,957.1 1073,957.3 1074,957.6 1075,958.0 1076,958.4 1077,958.5 1078,958.0 1079,959.1 1080,959.2 1081,959.5 1082,959.7 1083,960.0 1084,960.0 1085,960.3 1086,960.3 1087,960.3 1088,960.6 1089,960.6 1090,960.8 1091,959.5 1092,960.9 1093,961.2 1094,961.3 1095,961.4 1096,961.5 1097,961.4 1098,961.6 1099,961.6 1100,961.7 1101,961.6 1102,961.9 1103,960.6 1104,961.9 1105,960.6 1106,962.0 1107,962.2 1108,962.0 1109,962.1 1110,962.0 1111,962.2 1112,962.2 1113,962.2 1114,962.4 1115,962.4 1116,962.6 1117,962.2 1118,962.2 1119,962.3 1120,962.4 1121,962.2 1122,962.2 1123,962.4 1124,962.1 1125,960.9 1126,962.5 1127,962.5 1128,962.4 1129,962.6 1130,961.2 1131,962.3 1132,962.4 1133,962.5 1134,962.6 1135,962.3 1136,962.5 1137,962.3 1138,962.1 1139,962.2 1140,960.5 1141,962.2 1142,962.2 1143,962.0 1144,961.9 1145,961.8 1146,962.0 1147,961.6 1148,961.9 1149,962.0 1150,961.7 1151,961.6 1152,961.3 1153,961.5 1154,961.4 1155,961.3 1156,961.5 1157,961.0 1158,961.1 1159,960.8 1160,960.8 1161,960.8 1162,960.6 1163,959.4 1164,960.4 1165,960.3 1166,960.2 1167,960.1 1168,959.8 1169,959.7 1170,959.6 1171,959.8 1172,959.4 1173,959.2 1174,958.9 1175,959.0 1176,958.6 1177,956.6 1178,956.6 1179,957.1 1180,957.9 1181,957.8 1182,957.6 1183,957.6 1184,957.2 1185,957.1 1186,956.8 1187,956.7 1188,956.7 1189,956.3 1190,956.2 1191,956.0 1192,955.6 1193,955.7 1194,955.5 1195,955.4 1196,954.8 1197,954.8 1198,955.0 1199,954.7 1200,954.6 1201,954.2 1202,954.4 1203,954.0 1204,954.1 1205,953.2 1206,953.8 1207,953.8 1208,953.5 1209,953.7 1210,953.7 1211,953.5 1212,953.7 1213,953.5 1214,953.6 1215,953.6 1216,953.7 1217,952.7 1218,954.0 1219,953.9 1220,954.0 1221,954.2 1222,954.5 1223,954.5 1224,955.0 1225,954.3 1226,955.4 1227,955.8 1228,955.9 1229,956.3 1230,956.6 1231,956.9 1232,957.1 1233,957.8 1234,958.0 1235,958.4 1236,958.7 1237,959.0 1238,959.4 1239,959.8 1240,960.0 1241,960.5 1242,960.8 1243,961.2 1244,961.5 1245,961.1 1246,962.3 1247,962.5 1248,962.6 1249,962.8 1250,963.6 1251,963.8 1252,964.0 1253,964.1 1254,963.7 1255,964.9 1256,965.3 1257,965.3 1258,965.4 1259,965.6 1260,966.1 1261,966.4 1262,966.5 1263,966.8 1264,966.9 1265,966.1 1266,967.2 1267,967.4 1268,967.7 1269,967.8 1270,967.9 1271,968.0 1272,968.2 1273,968.3 1274,968.5 1275,968.6 1276,968.7 1277,967.1 1278,968.8 1279,969.1 1280,969.2 1281,970.9 1282,967.6 1283,968.4 1284,969.4 1285,969.6 1286,969.6 1287,968.1 1288,969.7 1289,969.9 1290,969.7 1291,969.8 1292,970.0 1293,970.0 1294,969.9 1295,969.8 1296,969.1 1297,970.0 1298,970.3 1299,970.2 1300,970.1 1301,970.2 1302,970.3 1303,970.6 1304,970.4 1305,970.6 1306,970.1 1307,970.3 1308,970.4 1309,970.6 1310,970.6 1311,970.4 1312,970.4 1313,969.2 1314,970.7 1315,970.6 1316,970.6 1317,971.0 1318,970.6 1319,970.6 1320,970.8 1321,970.4 1322,970.6 1323,970.5 1324,970.7 1325,970.7 1326,970.6 1327,970.7 1328,970.7 1329,970.7 1330,972.3 1331,969.9 1332,970.7 1333,970.8 1334,970.6 1335,970.9 1336,970.9 1337,970.8 1338,970.7 1339,970.8 1340,970.9 1341,970.9 1342,970.8 1343,970.8 1344,971.0 1345,970.8 1346,970.9 1347,970.8 1348,970.8 1349,971.1 1350,971.0 1351,970.8 1352,971.1 1353,971.0 1354,971.0 1355,972.4 1356,971.0 1357,971.1 1358,971.2 1359,970.8 1360,971.0 1361,971.0 1362,971.0 1363,971.0 1364,970.9 1365,971.2 1366,971.1 1367,971.0 1368,971.0 1369,971.2 1370,971.0 1371,971.3 1372,971.2 1373,971.0 1374,971.0 1375,971.0 1376,970.9 1377,970.9 1378,971.2 1379,971.1 1380,971.0 1381,971.1 1382,970.9 1383,971.1 1384,971.0 1385,970.0 1386,971.3 1387,971.2 1388,971.3 1389,971.3 1390,971.2 1391,971.2 1392,971.2 1393,971.1 1394,971.2 1395,972.4 1396,971.2 1397,971.2 1398,971.0 1399,971.5 1400,971.3 1401,971.2 1402,971.2 1403,971.4 1404,971.2 1405,971.2 1406,971.2 1407,971.1 1408,971.2 1409,971.1 1410,971.3 1411,971.3 1412,971.1 1413,971.1 1414,971.3 1415,971.2 1416,971.3 1417,971.1 1418,971.3 1419,971.1 1420,971.1 1421,971.5 1422,971.3 1423,971.4 1424,971.3 1425,971.2 1426,971.4 1427,971.3 1428,971.4 1429,971.3 1430,971.3 1431,971.6 1432,971.3 1433,972.2 1434,971.4 1435,971.4 1436,971.1 1437,971.1 1438,971.2 1439,971.3 1440,971.2 1441,971.3 1442,970.1 1443,971.4 1444,971.4 1445,971.5 1446,971.2 1447,971.1 1448,971.5 1449,971.4 1450,971.4 1451,971.1 1452,971.5 1453,970.5 1454,971.4 1455,971.5 1456,971.3 1457,971.1 1458,971.4 1459,971.4 1460,971.3 1461,971.4 1462,971.5 1463,971.2 1464,971.2 1465,971.1 1466,971.4 1467,971.4 1468,970.1 1469,971.2 1470,971.3 1471,971.5 1472,971.4 1473,970.3 1474,971.7 1475,971.4 1476,971.3 1477,971.3 1478,971.4 1479,971.3 1480,971.5 1481,969.7 1482,971.3 1483,971.2 1484,971.2 1485,971.3 1486,971.3 1487,971.2 1488,971.6 1489,972.8 1490,971.5 1491,971.3 1492,970.3 1493,969.7 1494,969.8 1495,971.3 1496,971.4 1497,971.4 1498,971.4 1499,971.3 1500,971.3 1501,971.2 1502,971.4 1503,971.4 1504,971.5 1505,971.5 1506,971.4 1507,971.5 1508,971.2 1509,971.3 1510,971.5 1511,971.3 1512,971.6 1513,970.1 1514,971.4 1515,971.6 1516,970.5 1517,971.5 1518,971.4 1519,971.4 1520,971.1 1521,971.4 1522,971.4 1523,973.0 1524,971.5 1525,971.6 1526,971.5 1527,971.5 1528,971.4 1529,971.5 1530,971.4 1531,971.4 1532,971.4 1533,971.4 1534,971.6 1535,971.4 1536,971.5 1537,971.4 1538,971.6 1539,971.6 1540,970.4 1541,971.3 1542,971.6 1543,970.2 1544,971.3 1545,971.3 1546,971.4 1547,970.0 1548,971.3 1549,971.3 1550,971.6 1551,971.5 1552,971.7 1553,971.4 1554,971.6 1555,971.4 1556,971.6 1557,971.4 1558,971.6 1559,971.5 1560,971.2 1561,971.5 1562,971.4 1563,971.7 1564,971.5 1565,971.5 1566,972.3 1567,971.7 1568,971.4 1569,971.5 1570,971.3 1571,971.6 1572,971.3 1573,971.6 1574,971.5 1575,971.5 1576,971.5 1577,971.5 1578,970.1 1579,971.5 1580,971.6 1581,970.4 1582,971.6 1583,971.4 1584,971.2 1585,971.6 1586,971.5 1587,970.8 1588,971.6 1589,971.3 1590,971.4 1591,970.4 1592,971.4 1593,971.8 1594,971.7 1595,971.6 1596,971.7 1597,971.6 1598,971.5 1599,971.4 1600,971.4 1601,971.6 1602,971.4 1603,971.4 1604,971.7 1605,969.8 1606,971.6 1607,971.7 1608,970.0 1609,971.4 1610,971.7 1611,971.5 1612,971.4 1613,971.5 1614,970.8 1615,971.5 1616,971.4 1617,970.3 1618,971.5 1619,971.6 1620,971.5 1621,970.5 1622,971.6 1623,971.6 1624,971.5 1625,971.6 1626,971.6 1627,971.5 1628,971.6 1629,971.7 1630,971.4 1631,971.7 1632,971.4 1633,971.6 1634,971.5 1635,971.7 1636,971.4 1637,971.5 1638,971.4 1639,971.5 1640,971.6 1641,971.7 1642,971.6 1643,971.5 1644,971.5 1645,971.5 1646,971.4 1647,971.6 1648,971.7 1649,970.4 1650,971.4 1651,971.7 1652,971.4 1653,970.3 1654,971.5 1655,971.7 1656,970.2 1657,971.6 1658,971.6 1659,971.8 1660,971.7 1661,971.7 1662,971.4 1663,971.7 1664,971.5 1665,971.4 1666,971.7 1667,971.4 1668,970.3 1669,971.7 1670,971.6 1671,971.5 1672,971.4 1673,971.7 1674,971.6 1675,971.7 1676,971.6 1677,971.6 1678,971.5 1679,971.7 1680,972.4 1681,971.8 1682,971.4 1683,971.7 1684,970.4 1685,970.1 1686,971.6 1687,971.5 1688,971.6 1689,970.9 1690,970.2 1691,971.6 1692,971.5 1693,971.6 1694,971.6 1695,971.5 1696,971.6 1697,971.6 1698,971.9 1699,970.7 1700,971.6 1701,971.6 1702,971.6 1703,971.6 1704,971.6 1705,971.6 1706,971.6"/>
</g>
<!-- peak markers -->
<g stroke="#000" stroke-width="5.1" stroke-dasharray="11.8 3.1">
<line x1="1023.45" y1="177" x2="1023.45" y2="967"/>
<line x1="1219.8" y1="177" x2="1219.8" y2="967"/>
</g>
<!-- legend -->
<g>
<rect x="142" y="482.55" width="107" height="8.9" rx="4" fill="#FF0000"/>
<rect x="142" y="592.95" width="107" height="8.9" rx="4" fill="#0070C0"/>
<rect x="142" y="703.15" width="107" height="8.9" rx="4" fill="#00B050"/>
<rect x="142" y="813.95" width="107" height="8.9" rx="4" fill="#7E2EA1"/>
<rect x="142" y="925.1" width="107" height="7.8" rx="3.5" fill="#FF6600"/>
</g>
<g class="m" font-size="55.6">
<text x="254.0 284.9 324.6 364.4 382.9 423.9 437.3 468.9" y="504.6">TOP/Ni=0</text>
<text x="254.0 284.9 324.6 364.4 382.9 423.9 437.3 468.9 500.4 515.1" y="615.0">TOP/Ni=0.1</text>
<text x="254.0 284.9 324.6 364.4 382.9 423.9 437.3 468.9 500.4 516.0" y="725.5">TOP/Ni=0.3</text>
<text x="254.0 284.9 324.6 364.4 382.9 423.9 437.3 468.9 500.4 515.9" y="835.9">TOP/Ni=0.5</text>
<text x="254.0 284.9 324.6 364.4 382.9 423.9 437.3 468.9 500.4 516.4" y="946.6">TOP/Ni=0.8</text>
</g>
<!-- peak labels -->
<g class="g" font-size="57.5" text-anchor="middle">
<text x="1027.5" y="67.1">Ni</text>
<text x="1211" y="68">Ni</text>
</g>
<g class="g" font-size="60.5" transform="scale(0.92 1)">
<text x="1063.3 1097.1 1131.3" y="141">111</text>
<text x="1275.1 1309.3 1343.9" y="142.7">200</text>
</g>
<!-- x tick labels -->
<g class="g" font-size="79.5" transform="scale(0.92 1)">
<text x="78.2 123.9" y="1091.2">10</text>
<text x="366.3 411.0" y="1091.2">20</text>
<text x="655.3 699.7" y="1091.2">30</text>
<text x="942.4 986.9" y="1091.2">40</text>
<text x="1231.4 1276.0" y="1091.2">50</text>
<text x="1518.1 1563.1" y="1091.2">60</text>
<text x="1805.6 1850.3" y="1091.2">70</text>
</g>
<!-- axis titles -->
<text class="b" font-size="76.5" x="849.2 891.8 936" y="1197.9 1198.5 1195.6">2θ°</text>
<text class="b" font-size="75.7" transform="translate(82.3 845.1) rotate(-90) scale(0.95 1)" x="-5.2 16.8 65.0 92.1 135.9 177.9 216.1 238.9 266.9 297.9 328.9 354.6 401.4 423.4 471.8 495.3" y="0">Intensity (a.u.)</text>
</svg>
</body>
</html>
